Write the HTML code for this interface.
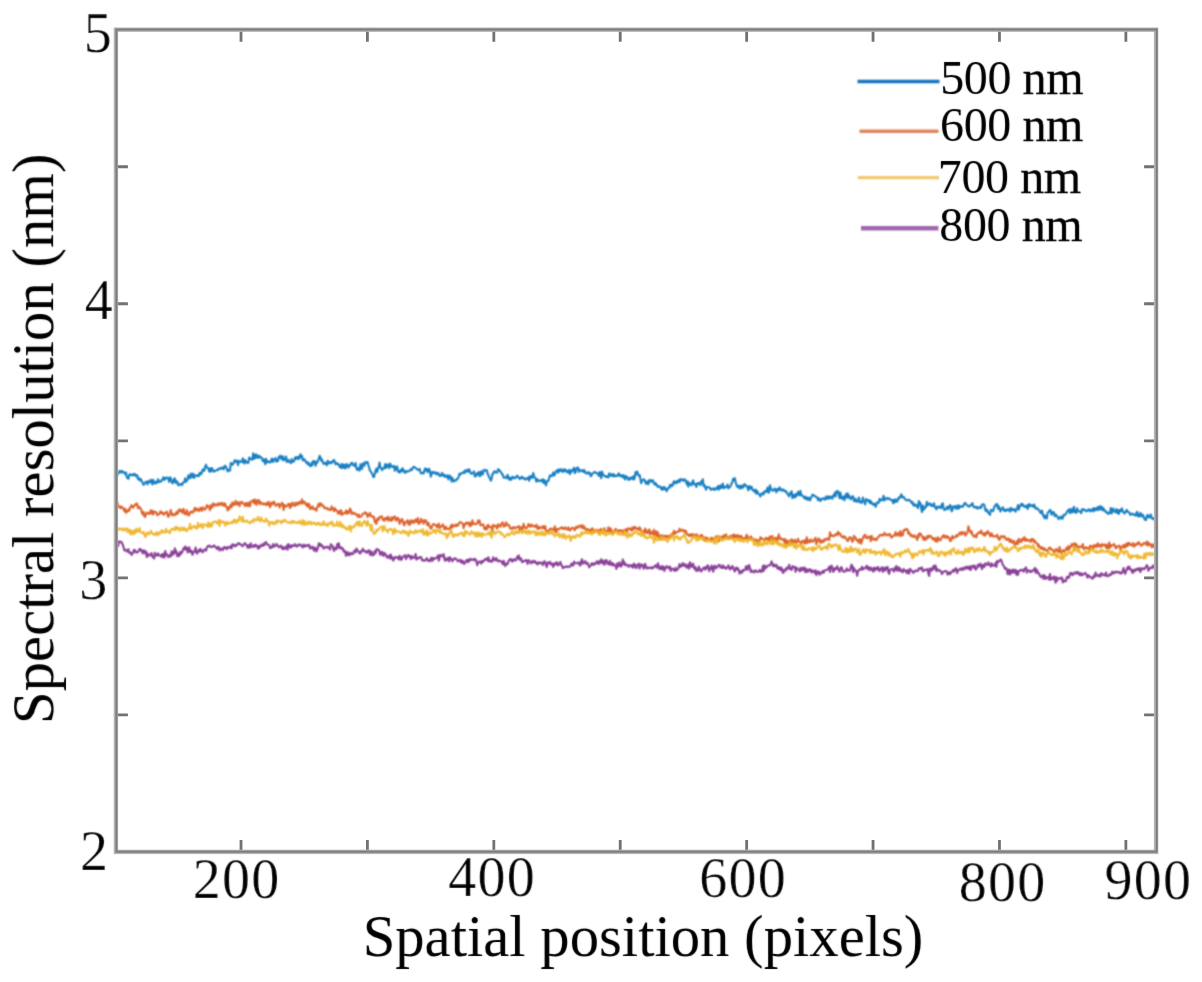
<!DOCTYPE html>
<html><head><meta charset="utf-8"><title>Spectral resolution</title>
<style>html,body{margin:0;padding:0;background:#fff;width:1202px;height:982px;overflow:hidden;font-family:"Liberation Serif",serif}</style>
</head><body>
<svg width="1202" height="982" viewBox="0 0 1202 982" style="display:block">
<defs><filter id="fd" x="-5%" y="-50%" width="110%" height="200%"><feConvolveMatrix order="3" kernelMatrix="1 2 1 2 4 2 1 2 1" edgeMode="none"/></filter><filter id="fa"><feOffset dx="0" dy="0"/></filter><filter id="fl" x="-5%" y="-50%" width="110%" height="200%"><feConvolveMatrix order="3" kernelMatrix="1 2 1 2 4 2 1 2 1" edgeMode="none"/></filter><filter id="ft" x="-5%" y="-50%" width="110%" height="200%"><feConvolveMatrix order="3" kernelMatrix="0 1 0 1 8 1 0 1 0" edgeMode="none"/></filter></defs>
<rect width="1202" height="982" fill="#fff"/>
<g filter="url(#fd)"><polyline points="116.4,474.6 117.2,475.1 118.0,473.3 118.8,472.5 119.6,470.9 120.4,471.3 121.2,472.7 122.0,471.0 122.8,472.0 123.6,471.9 124.4,473.3 125.2,474.1 126.0,472.5 126.8,477.4 127.6,478.0 128.4,478.9 129.2,475.0 130.0,474.2 130.8,474.9 131.6,474.8 132.4,475.3 133.2,474.1 134.0,475.2 134.8,473.9 135.6,475.7 136.4,476.3 137.2,475.1 138.0,479.0 138.8,478.2 139.6,480.4 140.4,478.8 141.2,479.9 142.0,481.7 142.8,483.2 143.6,484.9 144.4,484.0 145.2,482.7 146.0,481.6 146.8,482.0 147.6,484.3 148.4,481.0 149.2,482.2 150.0,482.3 150.8,479.7 151.6,482.3 152.4,484.5 153.2,479.9 154.0,482.7 154.8,483.4 155.6,481.9 156.4,483.3 157.2,482.0 158.0,479.3 158.8,482.2 159.6,481.4 160.4,481.3 161.2,481.5 162.0,479.6 162.8,479.3 163.6,477.2 164.4,480.0 165.2,478.2 166.0,478.4 166.8,477.3 167.6,478.0 168.4,478.9 169.2,481.9 170.0,477.2 170.8,478.3 171.6,481.1 172.4,483.3 173.2,482.3 174.0,478.9 174.8,478.3 175.6,482.9 176.4,481.6 177.2,481.3 178.0,484.8 178.8,485.3 179.6,484.2 180.4,484.1 181.2,483.9 182.0,485.1 182.8,483.1 183.6,482.4 184.4,481.9 185.2,478.2 186.0,481.8 186.8,480.8 187.6,479.5 188.4,475.2 189.2,476.6 190.0,478.2 190.8,473.6 191.6,475.5 192.4,477.2 193.2,473.6 194.0,477.9 194.8,476.2 195.6,475.0 196.4,475.7 197.2,476.0 198.0,475.1 198.8,476.2 199.6,472.9 200.4,472.7 201.2,474.2 202.0,471.8 202.8,469.3 203.6,470.9 204.4,470.6 205.2,466.6 206.0,464.8 206.8,467.3 207.6,467.9 208.4,468.4 209.2,471.6 210.0,468.4 210.8,471.8 211.6,468.0 212.4,468.8 213.2,470.9 214.0,471.6 214.8,471.2 215.6,470.5 216.4,470.2 217.2,469.8 218.0,470.1 218.8,468.5 219.6,468.8 220.4,468.9 221.2,467.6 222.0,468.3 222.8,467.6 223.6,469.4 224.4,466.5 225.2,465.7 226.0,467.0 226.8,468.8 227.6,471.4 228.4,469.9 229.2,469.8 230.0,470.7 230.8,462.9 231.6,463.9 232.4,464.8 233.2,463.8 234.0,462.3 234.8,460.2 235.6,461.9 236.4,461.5 237.2,460.5 238.0,465.1 238.8,462.1 239.6,460.9 240.4,461.8 241.2,461.7 242.0,462.1 242.8,458.3 243.6,461.6 244.4,463.5 245.2,460.0 246.0,461.4 246.8,462.7 247.6,462.3 248.4,462.8 249.2,457.5 250.0,459.0 250.8,458.5 251.6,459.4 252.4,459.6 253.2,453.4 254.0,458.9 254.8,454.9 255.6,457.9 256.4,454.4 257.2,456.7 258.0,458.0 258.8,455.8 259.6,456.1 260.4,457.7 261.2,457.5 262.0,457.9 262.8,461.2 263.6,461.0 264.4,459.4 265.2,464.3 266.0,458.9 266.8,462.4 267.6,461.0 268.4,461.8 269.2,462.5 270.0,461.7 270.8,462.2 271.6,458.9 272.4,458.8 273.2,461.9 274.0,459.4 274.8,459.2 275.6,458.0 276.4,461.7 277.2,460.4 278.0,461.0 278.8,456.8 279.6,457.8 280.4,455.5 281.2,457.9 282.0,459.4 282.8,456.2 283.6,460.3 284.4,459.9 285.2,458.7 286.0,456.5 286.8,462.0 287.6,460.2 288.4,459.9 289.2,461.9 290.0,462.1 290.8,463.2 291.6,459.0 292.4,461.7 293.2,461.8 294.0,461.2 294.8,458.3 295.6,457.0 296.4,459.1 297.2,457.3 298.0,456.8 298.8,459.1 299.6,456.9 300.4,454.3 301.2,457.6 302.0,455.9 302.8,460.4 303.6,460.1 304.4,459.2 305.2,460.6 306.0,462.4 306.8,461.8 307.6,464.2 308.4,462.7 309.2,464.9 310.0,466.0 310.8,466.2 311.6,462.8 312.4,465.2 313.2,461.1 314.0,462.3 314.8,461.1 315.6,465.7 316.4,462.3 317.2,462.7 318.0,460.4 318.8,458.7 319.6,455.8 320.4,457.0 321.2,460.8 322.0,459.6 322.8,461.8 323.6,464.0 324.4,463.6 325.2,462.9 326.0,463.4 326.8,465.3 327.6,460.7 328.4,461.8 329.2,463.6 330.0,462.8 330.8,461.8 331.6,463.1 332.4,462.3 333.2,460.4 334.0,460.0 334.8,461.5 335.6,464.5 336.4,463.1 337.2,463.4 338.0,464.4 338.8,464.0 339.6,466.9 340.4,465.7 341.2,468.0 342.0,463.9 342.8,467.9 343.6,466.5 344.4,464.5 345.2,468.5 346.0,467.0 346.8,464.1 347.6,466.1 348.4,467.6 349.2,465.1 350.0,465.6 350.8,464.1 351.6,462.7 352.4,463.0 353.2,465.5 354.0,465.3 354.8,465.9 355.6,463.0 356.4,468.4 357.2,469.9 358.0,468.4 358.8,467.9 359.6,470.7 360.4,464.3 361.2,466.9 362.0,469.0 362.8,463.2 363.6,464.8 364.4,465.8 365.2,462.0 366.0,462.2 366.8,462.8 367.6,462.1 368.4,465.3 369.2,467.8 370.0,470.6 370.8,471.4 371.6,473.1 372.4,473.9 373.2,476.9 374.0,476.9 374.8,473.9 375.6,470.6 376.4,468.7 377.2,472.1 378.0,468.0 378.8,467.0 379.6,462.6 380.4,467.8 381.2,468.0 382.0,470.2 382.8,468.7 383.6,467.9 384.4,468.3 385.2,464.0 386.0,468.0 386.8,466.4 387.6,464.3 388.4,467.0 389.2,468.1 390.0,463.6 390.8,465.0 391.6,466.8 392.4,466.9 393.2,466.4 394.0,465.8 394.8,470.8 395.6,469.5 396.4,466.5 397.2,466.6 398.0,471.6 398.8,470.9 399.6,472.6 400.4,471.4 401.2,469.3 402.0,471.4 402.8,468.2 403.6,470.7 404.4,472.1 405.2,473.0 406.0,470.8 406.8,471.3 407.6,471.7 408.4,471.2 409.2,471.2 410.0,470.2 410.8,469.0 411.6,470.2 412.4,468.7 413.2,467.0 414.0,466.9 414.8,467.5 415.6,467.8 416.4,468.8 417.2,469.1 418.0,470.0 418.8,470.0 419.6,468.9 420.4,472.0 421.2,473.5 422.0,473.1 422.8,472.8 423.6,473.5 424.4,470.6 425.2,468.4 426.0,470.5 426.8,468.9 427.6,472.2 428.4,470.3 429.2,468.8 430.0,471.9 430.8,476.7 431.6,474.2 432.4,471.9 433.2,472.0 434.0,473.2 434.8,472.4 435.6,472.2 436.4,474.5 437.2,473.6 438.0,472.9 438.8,474.1 439.6,476.0 440.4,475.3 441.2,475.7 442.0,472.9 442.8,474.6 443.6,476.1 444.4,474.7 445.2,476.8 446.0,476.2 446.8,476.8 447.6,475.2 448.4,479.4 449.2,477.6 450.0,475.7 450.8,477.0 451.6,481.5 452.4,477.9 453.2,480.5 454.0,481.5 454.8,480.8 455.6,479.8 456.4,480.2 457.2,478.9 458.0,478.4 458.8,476.3 459.6,473.6 460.4,474.4 461.2,473.7 462.0,473.0 462.8,472.6 463.6,471.9 464.4,473.1 465.2,470.3 466.0,470.8 466.8,471.7 467.6,469.7 468.4,471.5 469.2,469.3 470.0,471.5 470.8,473.6 471.6,473.8 472.4,473.0 473.2,473.0 474.0,471.4 474.8,476.5 475.6,474.7 476.4,475.8 477.2,473.0 478.0,474.2 478.8,472.0 479.6,476.1 480.4,476.0 481.2,471.3 482.0,473.7 482.8,474.3 483.6,470.3 484.4,469.9 485.2,470.6 486.0,470.8 486.8,470.2 487.6,473.7 488.4,475.3 489.2,477.2 490.0,478.6 490.8,480.7 491.6,478.9 492.4,473.9 493.2,473.8 494.0,471.7 494.8,471.3 495.6,472.5 496.4,472.3 497.2,472.6 498.0,469.2 498.8,469.4 499.6,470.8 500.4,471.4 501.2,472.6 502.0,474.3 502.8,474.6 503.6,477.8 504.4,477.7 505.2,477.4 506.0,476.9 506.8,478.1 507.6,474.7 508.4,477.7 509.2,479.6 510.0,477.7 510.8,479.8 511.6,479.3 512.4,476.7 513.2,477.9 514.0,477.4 514.8,478.2 515.6,478.0 516.4,476.7 517.2,475.6 518.0,476.9 518.8,477.4 519.6,478.9 520.4,478.6 521.2,477.4 522.0,476.7 522.8,478.5 523.6,478.3 524.4,478.0 525.2,479.6 526.0,478.5 526.8,478.9 527.6,479.1 528.4,477.2 529.2,480.8 530.0,476.3 530.8,477.9 531.6,476.0 532.4,477.8 533.2,473.0 534.0,475.8 534.8,477.7 535.6,478.7 536.4,481.7 537.2,479.1 538.0,480.9 538.8,480.5 539.6,481.1 540.4,480.7 541.2,480.0 542.0,481.4 542.8,479.3 543.6,483.0 544.4,480.0 545.2,482.3 546.0,485.4 546.8,481.7 547.6,480.7 548.4,481.0 549.2,477.9 550.0,475.3 550.8,476.2 551.6,476.0 552.4,475.5 553.2,472.6 554.0,475.6 554.8,474.8 555.6,471.6 556.4,471.3 557.2,470.1 558.0,472.7 558.8,469.4 559.6,471.4 560.4,469.6 561.2,469.2 562.0,471.2 562.8,472.0 563.6,470.0 564.4,469.1 565.2,471.4 566.0,470.2 566.8,470.8 567.6,472.7 568.4,472.2 569.2,469.8 570.0,474.1 570.8,470.7 571.6,472.0 572.4,469.7 573.2,470.5 574.0,467.8 574.8,473.1 575.6,472.3 576.4,468.4 577.2,467.8 578.0,467.5 578.8,471.9 579.6,469.8 580.4,470.7 581.2,470.6 582.0,471.2 582.8,470.0 583.6,472.0 584.4,470.1 585.2,472.4 586.0,473.2 586.8,473.6 587.6,472.8 588.4,472.0 589.2,473.8 590.0,473.0 590.8,476.3 591.6,475.2 592.4,473.7 593.2,473.0 594.0,472.4 594.8,471.9 595.6,472.6 596.4,473.3 597.2,473.5 598.0,473.3 598.8,475.9 599.6,472.1 600.4,473.6 601.2,478.2 602.0,471.6 602.8,474.0 603.6,475.4 604.4,475.8 605.2,476.6 606.0,476.0 606.8,477.1 607.6,476.5 608.4,477.4 609.2,473.3 610.0,474.7 610.8,475.9 611.6,474.2 612.4,474.1 613.2,476.4 614.0,474.4 614.8,476.2 615.6,476.2 616.4,475.4 617.2,475.9 618.0,475.1 618.8,473.3 619.6,475.5 620.4,476.4 621.2,475.1 622.0,475.9 622.8,477.3 623.6,475.1 624.4,477.5 625.2,479.5 626.0,476.1 626.8,477.4 627.6,477.2 628.4,480.0 629.2,478.4 630.0,479.5 630.8,477.4 631.6,478.6 632.4,478.9 633.2,476.2 634.0,479.6 634.8,477.4 635.6,472.0 636.4,474.3 637.2,471.5 638.0,474.1 638.8,475.9 639.6,475.0 640.4,478.8 641.2,483.3 642.0,480.7 642.8,479.9 643.6,479.4 644.4,479.5 645.2,481.8 646.0,483.8 646.8,481.8 647.6,481.5 648.4,484.4 649.2,480.2 650.0,479.9 650.8,481.6 651.6,481.8 652.4,480.2 653.2,480.8 654.0,483.8 654.8,484.5 655.6,483.0 656.4,485.5 657.2,485.2 658.0,487.0 658.8,486.4 659.6,486.7 660.4,486.6 661.2,488.9 662.0,489.7 662.8,487.3 663.6,489.3 664.4,487.1 665.2,488.6 666.0,489.9 666.8,491.2 667.6,488.2 668.4,488.1 669.2,488.0 670.0,484.8 670.8,486.5 671.6,484.9 672.4,485.9 673.2,483.1 674.0,481.2 674.8,483.5 675.6,483.2 676.4,481.3 677.2,482.8 678.0,480.4 678.8,480.2 679.6,482.1 680.4,478.9 681.2,479.6 682.0,480.0 682.8,480.7 683.6,479.2 684.4,480.5 685.2,479.6 686.0,481.7 686.8,484.3 687.6,481.4 688.4,486.6 689.2,482.7 690.0,484.1 690.8,484.2 691.6,485.3 692.4,481.8 693.2,480.4 694.0,484.3 694.8,484.5 695.6,484.1 696.4,487.0 697.2,483.2 698.0,483.1 698.8,484.0 699.6,483.0 700.4,485.2 701.2,481.4 702.0,483.2 702.8,479.2 703.6,486.1 704.4,484.8 705.2,487.3 706.0,489.7 706.8,487.0 707.6,487.1 708.4,487.3 709.2,487.3 710.0,488.1 710.8,489.9 711.6,488.9 712.4,488.9 713.2,488.4 714.0,490.0 714.8,489.2 715.6,488.2 716.4,489.3 717.2,487.8 718.0,486.0 718.8,489.6 719.6,487.8 720.4,485.4 721.2,488.1 722.0,486.7 722.8,483.6 723.6,488.3 724.4,486.5 725.2,487.6 726.0,486.7 726.8,486.4 727.6,484.5 728.4,488.5 729.2,487.3 730.0,486.8 730.8,485.7 731.6,483.3 732.4,482.2 733.2,478.7 734.0,480.2 734.8,478.2 735.6,482.0 736.4,484.8 737.2,487.0 738.0,485.7 738.8,486.3 739.6,488.6 740.4,485.6 741.2,486.9 742.0,488.2 742.8,485.5 743.6,487.1 744.4,484.0 745.2,485.4 746.0,485.4 746.8,486.1 747.6,488.0 748.4,490.3 749.2,486.1 750.0,486.6 750.8,488.6 751.6,486.7 752.4,489.8 753.2,490.6 754.0,490.0 754.8,492.0 755.6,489.6 756.4,493.8 757.2,491.0 758.0,493.0 758.8,493.9 759.6,494.9 760.4,496.5 761.2,494.5 762.0,493.0 762.8,493.6 763.6,494.4 764.4,491.2 765.2,491.1 766.0,492.0 766.8,490.2 767.6,487.5 768.4,492.7 769.2,491.9 770.0,485.3 770.8,488.6 771.6,489.5 772.4,490.7 773.2,490.5 774.0,489.4 774.8,488.5 775.6,490.6 776.4,492.3 777.2,489.0 778.0,489.0 778.8,490.3 779.6,487.3 780.4,489.7 781.2,489.3 782.0,490.8 782.8,489.5 783.6,489.6 784.4,490.8 785.2,491.7 786.0,491.2 786.8,492.6 787.6,494.1 788.4,495.1 789.2,496.3 790.0,493.0 790.8,493.9 791.6,491.2 792.4,498.2 793.2,494.7 794.0,496.1 794.8,497.4 795.6,494.0 796.4,496.2 797.2,494.9 798.0,491.7 798.8,494.3 799.6,495.2 800.4,490.9 801.2,495.4 802.0,495.1 802.8,496.1 803.6,496.6 804.4,498.4 805.2,496.7 806.0,498.9 806.8,497.5 807.6,499.8 808.4,497.7 809.2,498.2 810.0,500.5 810.8,498.1 811.6,496.7 812.4,494.7 813.2,494.7 814.0,495.7 814.8,496.3 815.6,496.4 816.4,497.3 817.2,497.3 818.0,500.2 818.8,498.3 819.6,498.9 820.4,501.1 821.2,499.6 822.0,498.9 822.8,498.3 823.6,498.6 824.4,499.7 825.2,499.1 826.0,496.5 826.8,498.8 827.6,498.2 828.4,496.2 829.2,498.7 830.0,496.9 830.8,496.6 831.6,498.1 832.4,498.7 833.2,495.4 834.0,495.9 834.8,492.8 835.6,496.5 836.4,491.2 837.2,492.6 838.0,491.1 838.8,494.8 839.6,498.3 840.4,492.6 841.2,497.2 842.0,498.8 842.8,497.6 843.6,496.4 844.4,500.3 845.2,496.9 846.0,494.0 846.8,497.5 847.6,493.3 848.4,497.7 849.2,495.6 850.0,497.2 850.8,499.3 851.6,498.1 852.4,496.4 853.2,496.4 854.0,501.2 854.8,501.0 855.6,498.9 856.4,501.6 857.2,501.3 858.0,501.7 858.8,497.5 859.6,500.7 860.4,502.7 861.2,502.6 862.0,502.7 862.8,497.5 863.6,501.3 864.4,501.5 865.2,504.4 866.0,499.0 866.8,499.7 867.6,500.1 868.4,501.5 869.2,500.2 870.0,503.3 870.8,501.1 871.6,503.5 872.4,503.0 873.2,504.8 874.0,504.3 874.8,503.7 875.6,506.8 876.4,504.6 877.2,502.3 878.0,502.5 878.8,502.7 879.6,498.7 880.4,499.6 881.2,500.4 882.0,500.2 882.8,498.7 883.6,495.8 884.4,500.6 885.2,499.1 886.0,498.4 886.8,497.9 887.6,499.2 888.4,498.7 889.2,498.3 890.0,499.2 890.8,499.9 891.6,500.4 892.4,500.1 893.2,503.3 894.0,499.9 894.8,502.3 895.6,499.3 896.4,500.8 897.2,501.7 898.0,499.4 898.8,497.4 899.6,498.1 900.4,497.6 901.2,494.3 902.0,495.9 902.8,497.4 903.6,496.9 904.4,498.1 905.2,499.5 906.0,499.9 906.8,500.5 907.6,500.4 908.4,499.5 909.2,500.3 910.0,500.4 910.8,501.6 911.6,503.0 912.4,501.8 913.2,505.1 914.0,505.6 914.8,504.1 915.6,505.4 916.4,506.1 917.2,505.0 918.0,508.2 918.8,501.1 919.6,504.6 920.4,502.9 921.2,508.3 922.0,512.0 922.8,505.5 923.6,509.6 924.4,509.1 925.2,506.8 926.0,507.0 926.8,501.8 927.6,505.4 928.4,503.9 929.2,503.8 930.0,503.4 930.8,505.7 931.6,504.5 932.4,506.1 933.2,505.4 934.0,503.3 934.8,507.1 935.6,507.9 936.4,509.3 937.2,506.5 938.0,507.2 938.8,507.6 939.6,506.4 940.4,507.5 941.2,508.1 942.0,504.0 942.8,503.3 943.6,508.2 944.4,510.0 945.2,509.6 946.0,509.3 946.8,507.1 947.6,506.9 948.4,509.2 949.2,506.4 950.0,505.0 950.8,506.1 951.6,511.3 952.4,510.4 953.2,506.4 954.0,506.2 954.8,507.6 955.6,506.0 956.4,509.0 957.2,506.9 958.0,505.3 958.8,508.8 959.6,505.9 960.4,507.0 961.2,506.6 962.0,506.0 962.8,506.9 963.6,505.3 964.4,503.5 965.2,502.9 966.0,504.2 966.8,504.9 967.6,505.9 968.4,506.0 969.2,506.6 970.0,505.9 970.8,504.7 971.6,505.0 972.4,503.1 973.2,506.1 974.0,507.3 974.8,507.5 975.6,506.7 976.4,506.8 977.2,508.6 978.0,507.4 978.8,508.2 979.6,507.5 980.4,506.6 981.2,507.8 982.0,504.6 982.8,504.5 983.6,504.2 984.4,505.3 985.2,509.8 986.0,511.1 986.8,509.5 987.6,511.3 988.4,513.2 989.2,513.7 990.0,514.8 990.8,510.1 991.6,510.0 992.4,510.6 993.2,511.1 994.0,508.1 994.8,505.7 995.6,505.4 996.4,504.0 997.2,504.3 998.0,508.7 998.8,506.3 999.6,508.1 1000.4,511.6 1001.2,510.1 1002.0,508.8 1002.8,507.3 1003.6,509.0 1004.4,511.0 1005.2,509.8 1006.0,511.0 1006.8,509.4 1007.6,510.2 1008.4,509.2 1009.2,510.2 1010.0,511.6 1010.8,507.7 1011.6,509.8 1012.4,510.4 1013.2,509.1 1014.0,509.1 1014.8,510.3 1015.6,511.6 1016.4,509.1 1017.2,508.2 1018.0,505.0 1018.8,509.7 1019.6,506.5 1020.4,505.9 1021.2,503.8 1022.0,505.5 1022.8,504.1 1023.6,506.0 1024.4,506.8 1025.2,506.3 1026.0,506.9 1026.8,505.3 1027.6,508.9 1028.4,505.8 1029.2,504.0 1030.0,506.4 1030.8,505.4 1031.6,505.0 1032.4,505.9 1033.2,506.9 1034.0,504.6 1034.8,506.1 1035.6,508.8 1036.4,508.5 1037.2,508.1 1038.0,509.4 1038.8,509.9 1039.6,510.9 1040.4,513.0 1041.2,512.8 1042.0,510.5 1042.8,515.2 1043.6,515.0 1044.4,518.3 1045.2,515.8 1046.0,516.2 1046.8,518.6 1047.6,513.1 1048.4,512.3 1049.2,511.2 1050.0,509.9 1050.8,511.0 1051.6,514.7 1052.4,513.5 1053.2,511.9 1054.0,512.8 1054.8,516.3 1055.6,514.5 1056.4,515.3 1057.2,516.4 1058.0,518.1 1058.8,519.1 1059.6,517.8 1060.4,516.6 1061.2,516.8 1062.0,519.0 1062.8,517.9 1063.6,514.8 1064.4,515.4 1065.2,514.6 1066.0,513.7 1066.8,512.4 1067.6,510.6 1068.4,511.3 1069.2,509.2 1070.0,513.1 1070.8,511.7 1071.6,508.8 1072.4,512.4 1073.2,511.3 1074.0,506.8 1074.8,512.1 1075.6,510.7 1076.4,512.9 1077.2,508.2 1078.0,511.2 1078.8,511.3 1079.6,511.3 1080.4,511.5 1081.2,513.2 1082.0,509.3 1082.8,509.6 1083.6,509.2 1084.4,510.3 1085.2,510.0 1086.0,511.3 1086.8,511.0 1087.6,510.5 1088.4,509.3 1089.2,509.5 1090.0,511.4 1090.8,510.9 1091.6,509.7 1092.4,508.9 1093.2,511.5 1094.0,508.1 1094.8,509.7 1095.6,510.3 1096.4,508.0 1097.2,509.7 1098.0,506.8 1098.8,510.0 1099.6,508.7 1100.4,506.1 1101.2,509.4 1102.0,507.1 1102.8,510.5 1103.6,508.4 1104.4,509.9 1105.2,511.4 1106.0,511.3 1106.8,513.0 1107.6,512.5 1108.4,514.0 1109.2,512.7 1110.0,512.7 1110.8,508.0 1111.6,513.5 1112.4,511.5 1113.2,508.5 1114.0,511.0 1114.8,511.5 1115.6,512.3 1116.4,509.0 1117.2,512.9 1118.0,510.2 1118.8,514.0 1119.6,510.1 1120.4,511.3 1121.2,509.6 1122.0,508.4 1122.8,512.0 1123.6,512.1 1124.4,513.5 1125.2,512.8 1126.0,511.1 1126.8,509.9 1127.6,511.8 1128.4,512.1 1129.2,512.3 1130.0,514.8 1130.8,514.6 1131.6,513.7 1132.4,514.4 1133.2,513.9 1134.0,514.5 1134.8,515.3 1135.6,515.6 1136.4,513.1 1137.2,511.9 1138.0,516.3 1138.8,514.5 1139.6,516.5 1140.4,512.9 1141.2,515.3 1142.0,516.4 1142.8,514.7 1143.6,516.6 1144.4,518.9 1145.2,519.7 1146.0,520.1 1146.8,516.0 1147.6,514.8 1148.4,517.3 1149.2,517.5 1150.0,516.1 1150.8,514.5 1151.6,518.2 1152.4,518.7 1153.2,519.0 1154.0,518.0 1154.8,519.7 1155.6,521.0" fill="none" stroke="#0072BD" stroke-width="2.1" stroke-opacity="0.9" stroke-linejoin="round"/><polyline points="116.4,504.1 117.2,502.5 118.0,506.2 118.8,506.8 119.6,506.5 120.4,508.2 121.2,506.4 122.0,507.5 122.8,507.6 123.6,509.3 124.4,511.2 125.2,508.8 126.0,512.7 126.8,512.1 127.6,510.5 128.4,509.6 129.2,510.9 130.0,507.5 130.8,507.1 131.6,505.1 132.4,506.9 133.2,507.7 134.0,506.0 134.8,505.3 135.6,503.9 136.4,505.0 137.2,503.6 138.0,508.3 138.8,507.1 139.6,507.0 140.4,508.5 141.2,509.5 142.0,513.1 142.8,514.4 143.6,511.9 144.4,516.4 145.2,516.9 146.0,514.3 146.8,512.5 147.6,513.3 148.4,513.0 149.2,514.1 150.0,512.7 150.8,510.2 151.6,513.6 152.4,510.9 153.2,514.6 154.0,511.4 154.8,512.2 155.6,511.9 156.4,512.4 157.2,515.2 158.0,514.5 158.8,514.2 159.6,513.9 160.4,511.2 161.2,512.9 162.0,513.0 162.8,512.5 163.6,514.9 164.4,513.1 165.2,513.3 166.0,512.9 166.8,511.5 167.6,515.7 168.4,516.8 169.2,514.9 170.0,512.9 170.8,510.1 171.6,514.2 172.4,515.5 173.2,513.9 174.0,514.6 174.8,515.2 175.6,514.5 176.4,511.9 177.2,513.9 178.0,513.2 178.8,509.6 179.6,511.0 180.4,509.5 181.2,511.5 182.0,512.6 182.8,510.2 183.6,508.8 184.4,513.9 185.2,512.6 186.0,514.3 186.8,510.1 187.6,513.8 188.4,515.4 189.2,515.3 190.0,512.0 190.8,512.3 191.6,511.3 192.4,512.6 193.2,512.3 194.0,510.4 194.8,507.9 195.6,510.6 196.4,508.4 197.2,509.9 198.0,509.2 198.8,511.1 199.6,510.2 200.4,507.7 201.2,508.8 202.0,510.8 202.8,507.2 203.6,508.5 204.4,509.5 205.2,509.5 206.0,508.2 206.8,505.3 207.6,505.2 208.4,507.3 209.2,507.3 210.0,510.3 210.8,505.0 211.6,507.8 212.4,507.1 213.2,503.2 214.0,504.3 214.8,505.6 215.6,504.4 216.4,504.7 217.2,505.5 218.0,503.4 218.8,505.1 219.6,503.3 220.4,503.3 221.2,504.8 222.0,502.9 222.8,504.1 223.6,505.9 224.4,503.4 225.2,503.8 226.0,506.7 226.8,506.7 227.6,510.4 228.4,507.6 229.2,509.2 230.0,506.3 230.8,504.7 231.6,507.3 232.4,502.2 233.2,505.0 234.0,503.4 234.8,504.6 235.6,500.9 236.4,504.2 237.2,504.6 238.0,502.2 238.8,502.2 239.6,506.1 240.4,502.8 241.2,502.0 242.0,501.9 242.8,503.7 243.6,503.7 244.4,503.6 245.2,506.1 246.0,503.1 246.8,504.5 247.6,506.1 248.4,502.5 249.2,505.3 250.0,506.3 250.8,501.4 251.6,501.5 252.4,501.4 253.2,500.0 254.0,503.3 254.8,499.6 255.6,503.2 256.4,504.8 257.2,500.3 258.0,502.3 258.8,500.0 259.6,504.2 260.4,502.0 261.2,502.8 262.0,503.5 262.8,504.5 263.6,503.4 264.4,504.2 265.2,503.7 266.0,504.9 266.8,503.1 267.6,504.8 268.4,501.7 269.2,503.8 270.0,507.3 270.8,504.5 271.6,502.4 272.4,504.5 273.2,502.6 274.0,501.8 274.8,503.3 275.6,505.7 276.4,505.4 277.2,504.8 278.0,503.7 278.8,503.7 279.6,507.5 280.4,506.0 281.2,504.4 282.0,502.8 282.8,504.1 283.6,510.0 284.4,504.8 285.2,506.3 286.0,506.6 286.8,505.9 287.6,505.6 288.4,503.8 289.2,504.1 290.0,508.0 290.8,504.2 291.6,506.4 292.4,502.5 293.2,504.4 294.0,505.0 294.8,506.0 295.6,502.6 296.4,505.0 297.2,504.5 298.0,502.6 298.8,504.2 299.6,501.9 300.4,502.1 301.2,503.4 302.0,499.4 302.8,503.4 303.6,502.2 304.4,501.6 305.2,503.2 306.0,505.1 306.8,503.6 307.6,506.7 308.4,503.8 309.2,504.2 310.0,509.0 310.8,507.6 311.6,508.7 312.4,506.3 313.2,509.0 314.0,508.5 314.8,509.4 315.6,508.7 316.4,510.8 317.2,507.2 318.0,505.6 318.8,503.6 319.6,506.4 320.4,503.4 321.2,503.7 322.0,504.7 322.8,506.2 323.6,505.8 324.4,508.1 325.2,508.1 326.0,508.3 326.8,507.8 327.6,509.4 328.4,508.7 329.2,509.6 330.0,509.9 330.8,510.1 331.6,506.4 332.4,509.0 333.2,508.7 334.0,511.3 334.8,508.1 335.6,509.7 336.4,510.7 337.2,510.9 338.0,513.3 338.8,511.4 339.6,513.9 340.4,510.5 341.2,510.3 342.0,515.0 342.8,513.6 343.6,513.5 344.4,512.8 345.2,513.2 346.0,510.5 346.8,513.6 347.6,511.2 348.4,513.3 349.2,511.8 350.0,508.6 350.8,510.1 351.6,514.1 352.4,512.6 353.2,512.6 354.0,514.0 354.8,513.4 355.6,513.6 356.4,514.9 357.2,515.0 358.0,516.9 358.8,514.5 359.6,517.1 360.4,516.8 361.2,516.5 362.0,515.4 362.8,513.8 363.6,513.7 364.4,513.1 365.2,512.3 366.0,513.7 366.8,513.2 367.6,517.0 368.4,515.8 369.2,514.7 370.0,512.9 370.8,516.1 371.6,516.0 372.4,516.2 373.2,517.3 374.0,516.8 374.8,522.3 375.6,520.7 376.4,523.9 377.2,519.2 378.0,518.2 378.8,519.8 379.6,517.0 380.4,517.0 381.2,516.5 382.0,516.4 382.8,519.9 383.6,519.4 384.4,520.8 385.2,518.0 386.0,518.9 386.8,517.7 387.6,520.4 388.4,516.8 389.2,519.7 390.0,520.4 390.8,520.8 391.6,517.2 392.4,520.2 393.2,517.4 394.0,517.3 394.8,516.4 395.6,520.0 396.4,520.7 397.2,517.7 398.0,518.0 398.8,519.1 399.6,523.9 400.4,522.1 401.2,520.3 402.0,518.9 402.8,521.1 403.6,524.2 404.4,525.3 405.2,522.2 406.0,521.7 406.8,522.1 407.6,520.1 408.4,524.4 409.2,521.5 410.0,524.7 410.8,520.3 411.6,520.6 412.4,522.7 413.2,520.8 414.0,522.8 414.8,521.3 415.6,519.3 416.4,521.7 417.2,522.1 418.0,518.1 418.8,523.9 419.6,522.1 420.4,522.6 421.2,518.9 422.0,520.7 422.8,521.4 423.6,523.7 424.4,520.1 425.2,521.4 426.0,520.3 426.8,523.7 427.6,525.2 428.4,522.8 429.2,525.1 430.0,527.2 430.8,528.7 431.6,527.2 432.4,525.5 433.2,524.1 434.0,524.3 434.8,524.5 435.6,525.6 436.4,525.1 437.2,527.5 438.0,525.3 438.8,523.6 439.6,527.9 440.4,527.4 441.2,526.6 442.0,525.7 442.8,524.4 443.6,526.1 444.4,529.4 445.2,527.2 446.0,526.8 446.8,529.1 447.6,528.8 448.4,528.9 449.2,528.6 450.0,529.3 450.8,525.6 451.6,527.9 452.4,524.5 453.2,526.7 454.0,525.6 454.8,525.4 455.6,526.2 456.4,524.4 457.2,525.8 458.0,525.2 458.8,523.7 459.6,522.4 460.4,522.1 461.2,522.6 462.0,523.1 462.8,523.5 463.6,528.1 464.4,524.6 465.2,524.9 466.0,522.5 466.8,522.8 467.6,523.5 468.4,524.3 469.2,522.4 470.0,526.3 470.8,523.0 471.6,525.3 472.4,520.2 473.2,523.6 474.0,523.9 474.8,523.8 475.6,524.3 476.4,523.8 477.2,523.5 478.0,520.4 478.8,522.5 479.6,520.5 480.4,525.3 481.2,525.2 482.0,524.9 482.8,524.3 483.6,525.1 484.4,529.1 485.2,529.4 486.0,527.1 486.8,529.4 487.6,525.3 488.4,524.9 489.2,527.3 490.0,526.9 490.8,526.7 491.6,527.1 492.4,530.7 493.2,524.7 494.0,525.8 494.8,526.2 495.6,525.8 496.4,527.3 497.2,528.6 498.0,524.2 498.8,526.3 499.6,525.7 500.4,526.6 501.2,523.7 502.0,523.3 502.8,522.4 503.6,526.6 504.4,526.1 505.2,525.9 506.0,522.2 506.8,525.2 507.6,525.0 508.4,524.5 509.2,525.6 510.0,528.4 510.8,528.6 511.6,528.1 512.4,528.8 513.2,527.0 514.0,527.9 514.8,527.7 515.6,528.4 516.4,527.3 517.2,527.0 518.0,526.9 518.8,526.0 519.6,530.2 520.4,527.5 521.2,527.2 522.0,529.9 522.8,528.4 523.6,523.9 524.4,527.1 525.2,527.2 526.0,528.6 526.8,527.7 527.6,526.9 528.4,524.1 529.2,524.6 530.0,526.4 530.8,526.8 531.6,524.6 532.4,525.6 533.2,525.6 534.0,526.4 534.8,526.9 535.6,526.0 536.4,524.7 537.2,528.4 538.0,529.1 538.8,526.6 539.6,528.4 540.4,527.6 541.2,528.0 542.0,527.8 542.8,526.0 543.6,528.1 544.4,528.8 545.2,526.1 546.0,530.7 546.8,531.2 547.6,531.1 548.4,531.6 549.2,530.1 550.0,528.8 550.8,528.7 551.6,528.6 552.4,529.9 553.2,529.5 554.0,530.4 554.8,526.2 555.6,532.5 556.4,532.3 557.2,528.7 558.0,529.6 558.8,529.1 559.6,528.7 560.4,527.9 561.2,528.1 562.0,527.1 562.8,528.7 563.6,528.5 564.4,529.0 565.2,527.3 566.0,528.8 566.8,528.8 567.6,529.7 568.4,527.3 569.2,529.6 570.0,530.5 570.8,529.7 571.6,528.1 572.4,527.7 573.2,527.9 574.0,529.2 574.8,530.3 575.6,527.6 576.4,526.7 577.2,528.0 578.0,527.6 578.8,525.7 579.6,525.8 580.4,526.6 581.2,527.6 582.0,525.0 582.8,525.8 583.6,528.6 584.4,526.5 585.2,529.0 586.0,529.9 586.8,529.7 587.6,528.8 588.4,530.6 589.2,530.2 590.0,531.2 590.8,529.4 591.6,532.3 592.4,528.2 593.2,530.4 594.0,530.7 594.8,532.1 595.6,529.8 596.4,531.5 597.2,529.8 598.0,531.7 598.8,533.1 599.6,529.8 600.4,531.0 601.2,528.9 602.0,531.7 602.8,532.0 603.6,530.1 604.4,528.3 605.2,530.6 606.0,531.6 606.8,531.5 607.6,531.2 608.4,527.3 609.2,529.1 610.0,532.3 610.8,528.4 611.6,532.0 612.4,533.2 613.2,531.6 614.0,532.2 614.8,530.0 615.6,528.8 616.4,530.5 617.2,530.3 618.0,530.5 618.8,531.6 619.6,530.2 620.4,530.7 621.2,531.0 622.0,530.3 622.8,533.0 623.6,530.8 624.4,530.2 625.2,529.7 626.0,529.1 626.8,532.0 627.6,530.1 628.4,528.2 629.2,528.8 630.0,529.3 630.8,528.6 631.6,530.8 632.4,527.2 633.2,529.6 634.0,528.9 634.8,526.7 635.6,528.4 636.4,528.0 637.2,529.3 638.0,528.3 638.8,529.8 639.6,527.3 640.4,528.5 641.2,531.8 642.0,532.5 642.8,531.4 643.6,530.7 644.4,533.3 645.2,528.6 646.0,530.7 646.8,533.0 647.6,533.1 648.4,530.6 649.2,529.4 650.0,534.6 650.8,532.9 651.6,531.6 652.4,533.3 653.2,534.9 654.0,529.9 654.8,535.7 655.6,535.4 656.4,531.4 657.2,536.0 658.0,532.4 658.8,537.1 659.6,536.2 660.4,539.2 661.2,535.1 662.0,536.3 662.8,538.0 663.6,535.7 664.4,535.8 665.2,536.5 666.0,537.1 666.8,535.5 667.6,537.5 668.4,537.1 669.2,536.0 670.0,538.1 670.8,534.6 671.6,536.7 672.4,533.5 673.2,535.1 674.0,530.8 674.8,533.8 675.6,533.0 676.4,532.2 677.2,531.8 678.0,532.0 678.8,531.2 679.6,528.7 680.4,530.9 681.2,530.8 682.0,530.6 682.8,529.6 683.6,530.8 684.4,532.0 685.2,530.6 686.0,530.9 686.8,534.4 687.6,534.5 688.4,535.0 689.2,536.1 690.0,534.4 690.8,534.6 691.6,536.5 692.4,534.0 693.2,534.7 694.0,535.4 694.8,535.4 695.6,534.4 696.4,536.3 697.2,534.6 698.0,535.9 698.8,536.8 699.6,536.6 700.4,537.3 701.2,534.9 702.0,535.2 702.8,536.7 703.6,538.9 704.4,540.9 705.2,537.2 706.0,539.5 706.8,537.7 707.6,537.9 708.4,538.6 709.2,540.0 710.0,539.3 710.8,540.8 711.6,537.5 712.4,540.1 713.2,540.0 714.0,538.5 714.8,538.9 715.6,537.2 716.4,536.2 717.2,537.0 718.0,536.4 718.8,541.5 719.6,536.3 720.4,539.3 721.2,536.9 722.0,537.0 722.8,537.6 723.6,535.3 724.4,537.9 725.2,537.1 726.0,534.2 726.8,537.4 727.6,537.3 728.4,537.2 729.2,538.9 730.0,535.9 730.8,537.3 731.6,537.6 732.4,535.2 733.2,538.3 734.0,534.5 734.8,534.9 735.6,537.8 736.4,535.5 737.2,537.1 738.0,535.0 738.8,537.7 739.6,536.1 740.4,538.4 741.2,535.8 742.0,538.9 742.8,537.9 743.6,538.5 744.4,538.4 745.2,538.7 746.0,536.6 746.8,534.8 747.6,538.8 748.4,537.4 749.2,538.3 750.0,539.7 750.8,536.3 751.6,538.4 752.4,538.8 753.2,538.4 754.0,540.7 754.8,540.3 755.6,539.5 756.4,539.5 757.2,542.4 758.0,540.4 758.8,542.0 759.6,541.2 760.4,537.2 761.2,537.9 762.0,539.0 762.8,538.9 763.6,539.4 764.4,539.5 765.2,539.9 766.0,537.8 766.8,538.2 767.6,539.7 768.4,538.0 769.2,540.3 770.0,536.4 770.8,539.8 771.6,538.6 772.4,536.0 773.2,540.5 774.0,539.6 774.8,539.2 775.6,537.6 776.4,538.6 777.2,541.7 778.0,538.2 778.8,534.4 779.6,538.4 780.4,537.9 781.2,539.6 782.0,539.4 782.8,539.0 783.6,539.4 784.4,542.5 785.2,539.1 786.0,544.5 786.8,541.0 787.6,540.5 788.4,543.5 789.2,543.1 790.0,540.6 790.8,543.2 791.6,539.2 792.4,540.5 793.2,543.5 794.0,541.4 794.8,539.7 795.6,542.4 796.4,542.9 797.2,541.5 798.0,538.8 798.8,541.0 799.6,542.1 800.4,542.7 801.2,544.3 802.0,541.1 802.8,540.8 803.6,541.4 804.4,543.3 805.2,540.1 806.0,543.5 806.8,537.3 807.6,542.6 808.4,540.3 809.2,542.0 810.0,542.2 810.8,539.4 811.6,540.9 812.4,541.4 813.2,541.8 814.0,539.5 814.8,539.3 815.6,537.8 816.4,544.5 817.2,540.4 818.0,540.3 818.8,538.4 819.6,542.1 820.4,539.9 821.2,542.8 822.0,541.9 822.8,540.7 823.6,541.8 824.4,539.0 825.2,540.2 826.0,539.8 826.8,538.4 827.6,539.5 828.4,538.5 829.2,540.0 830.0,532.2 830.8,535.9 831.6,535.1 832.4,535.5 833.2,536.4 834.0,536.1 834.8,535.1 835.6,534.0 836.4,535.1 837.2,534.6 838.0,531.7 838.8,534.5 839.6,533.3 840.4,534.0 841.2,536.4 842.0,536.7 842.8,537.3 843.6,536.2 844.4,537.7 845.2,536.8 846.0,538.9 846.8,539.4 847.6,541.1 848.4,540.4 849.2,537.4 850.0,538.0 850.8,537.4 851.6,539.3 852.4,541.9 853.2,540.1 854.0,535.9 854.8,537.5 855.6,537.6 856.4,540.4 857.2,539.8 858.0,540.4 858.8,542.8 859.6,539.1 860.4,539.2 861.2,543.6 862.0,540.8 862.8,538.6 863.6,536.2 864.4,536.5 865.2,534.6 866.0,537.9 866.8,537.3 867.6,538.3 868.4,536.6 869.2,536.5 870.0,537.1 870.8,541.2 871.6,535.8 872.4,538.9 873.2,538.8 874.0,539.8 874.8,538.4 875.6,539.8 876.4,540.2 877.2,538.3 878.0,537.2 878.8,536.9 879.6,535.1 880.4,535.5 881.2,534.7 882.0,534.7 882.8,535.6 883.6,535.2 884.4,532.8 885.2,534.6 886.0,534.4 886.8,535.4 887.6,534.5 888.4,535.1 889.2,534.2 890.0,534.0 890.8,536.7 891.6,537.6 892.4,536.5 893.2,536.0 894.0,535.6 894.8,534.4 895.6,532.2 896.4,535.7 897.2,534.9 898.0,533.6 898.8,532.8 899.6,536.0 900.4,531.0 901.2,535.7 902.0,533.4 902.8,535.4 903.6,530.2 904.4,530.6 905.2,529.3 906.0,529.7 906.8,529.0 907.6,529.6 908.4,533.8 909.2,532.4 910.0,534.1 910.8,536.1 911.6,534.9 912.4,535.4 913.2,537.0 914.0,536.3 914.8,535.4 915.6,537.5 916.4,537.7 917.2,540.0 918.0,534.8 918.8,536.9 919.6,533.2 920.4,533.9 921.2,534.6 922.0,536.2 922.8,537.7 923.6,539.7 924.4,536.8 925.2,540.0 926.0,539.1 926.8,538.4 927.6,535.7 928.4,537.8 929.2,535.9 930.0,536.3 930.8,535.8 931.6,537.7 932.4,538.9 933.2,539.4 934.0,537.9 934.8,540.2 935.6,541.4 936.4,538.3 937.2,541.8 938.0,537.3 938.8,539.8 939.6,539.5 940.4,540.5 941.2,538.4 942.0,536.9 942.8,536.1 943.6,535.1 944.4,537.8 945.2,536.3 946.0,535.9 946.8,538.0 947.6,536.4 948.4,537.2 949.2,537.4 950.0,540.9 950.8,540.9 951.6,538.7 952.4,536.0 953.2,538.2 954.0,537.4 954.8,537.2 955.6,537.0 956.4,535.1 957.2,536.4 958.0,535.7 958.8,534.2 959.6,532.7 960.4,532.6 961.2,534.6 962.0,532.1 962.8,533.7 963.6,533.0 964.4,532.2 965.2,535.4 966.0,534.7 966.8,533.7 967.6,531.8 968.4,526.3 969.2,529.5 970.0,531.1 970.8,532.9 971.6,531.1 972.4,534.9 973.2,535.2 974.0,536.7 974.8,536.1 975.6,535.1 976.4,537.3 977.2,533.8 978.0,533.0 978.8,532.9 979.6,531.8 980.4,533.2 981.2,530.5 982.0,533.2 982.8,534.1 983.6,535.0 984.4,533.0 985.2,535.7 986.0,532.7 986.8,533.6 987.6,531.0 988.4,532.8 989.2,532.8 990.0,536.3 990.8,535.3 991.6,533.3 992.4,536.1 993.2,536.4 994.0,535.8 994.8,536.5 995.6,536.5 996.4,536.5 997.2,534.8 998.0,537.4 998.8,539.5 999.6,539.8 1000.4,537.1 1001.2,536.0 1002.0,536.3 1002.8,537.4 1003.6,536.8 1004.4,536.2 1005.2,538.3 1006.0,538.2 1006.8,540.0 1007.6,539.4 1008.4,538.3 1009.2,540.8 1010.0,542.0 1010.8,539.5 1011.6,541.1 1012.4,542.8 1013.2,541.2 1014.0,540.9 1014.8,545.1 1015.6,543.5 1016.4,544.0 1017.2,540.7 1018.0,544.1 1018.8,538.9 1019.6,540.2 1020.4,541.7 1021.2,542.1 1022.0,538.7 1022.8,538.9 1023.6,540.1 1024.4,537.0 1025.2,540.7 1026.0,540.6 1026.8,539.1 1027.6,540.5 1028.4,540.8 1029.2,540.1 1030.0,540.4 1030.8,541.9 1031.6,538.9 1032.4,539.9 1033.2,539.2 1034.0,542.1 1034.8,540.7 1035.6,542.7 1036.4,542.9 1037.2,543.5 1038.0,546.6 1038.8,544.7 1039.6,547.6 1040.4,547.3 1041.2,548.6 1042.0,547.1 1042.8,549.3 1043.6,549.6 1044.4,548.2 1045.2,550.1 1046.0,550.1 1046.8,550.2 1047.6,552.1 1048.4,549.1 1049.2,547.7 1050.0,547.5 1050.8,549.4 1051.6,549.0 1052.4,549.9 1053.2,550.7 1054.0,552.4 1054.8,550.3 1055.6,550.5 1056.4,548.8 1057.2,550.7 1058.0,551.8 1058.8,551.8 1059.6,547.0 1060.4,551.8 1061.2,553.5 1062.0,553.1 1062.8,550.0 1063.6,551.1 1064.4,551.8 1065.2,550.9 1066.0,548.5 1066.8,547.8 1067.6,549.9 1068.4,546.0 1069.2,549.4 1070.0,546.9 1070.8,546.9 1071.6,544.1 1072.4,544.7 1073.2,546.2 1074.0,543.2 1074.8,548.5 1075.6,543.7 1076.4,544.3 1077.2,546.3 1078.0,547.2 1078.8,547.8 1079.6,546.4 1080.4,546.9 1081.2,547.1 1082.0,546.8 1082.8,544.0 1083.6,549.1 1084.4,548.2 1085.2,548.1 1086.0,547.1 1086.8,548.4 1087.6,548.1 1088.4,548.1 1089.2,549.9 1090.0,545.7 1090.8,548.3 1091.6,546.1 1092.4,546.8 1093.2,549.2 1094.0,545.1 1094.8,546.3 1095.6,545.3 1096.4,547.2 1097.2,544.4 1098.0,543.3 1098.8,546.4 1099.6,545.0 1100.4,545.0 1101.2,547.0 1102.0,544.0 1102.8,544.7 1103.6,545.4 1104.4,545.7 1105.2,544.4 1106.0,546.7 1106.8,548.5 1107.6,544.8 1108.4,548.1 1109.2,542.5 1110.0,547.6 1110.8,545.1 1111.6,545.9 1112.4,545.3 1113.2,544.9 1114.0,544.1 1114.8,545.5 1115.6,548.2 1116.4,548.1 1117.2,546.2 1118.0,546.1 1118.8,546.1 1119.6,545.6 1120.4,550.1 1121.2,548.2 1122.0,547.1 1122.8,545.9 1123.6,544.9 1124.4,547.9 1125.2,546.8 1126.0,544.0 1126.8,546.5 1127.6,543.1 1128.4,545.3 1129.2,542.9 1130.0,543.7 1130.8,545.0 1131.6,544.9 1132.4,545.7 1133.2,543.1 1134.0,546.6 1134.8,546.2 1135.6,544.3 1136.4,544.9 1137.2,543.1 1138.0,543.9 1138.8,542.1 1139.6,544.1 1140.4,544.1 1141.2,545.7 1142.0,545.0 1142.8,544.7 1143.6,543.0 1144.4,543.4 1145.2,543.4 1146.0,544.4 1146.8,541.5 1147.6,545.6 1148.4,542.5 1149.2,544.2 1150.0,545.1 1150.8,544.2 1151.6,547.2 1152.4,544.6 1153.2,546.9 1154.0,546.2 1154.8,543.7 1155.6,544.9" fill="none" stroke="#D95319" stroke-width="2.1" stroke-opacity="0.9" stroke-linejoin="round"/><polyline points="116.4,531.7 117.2,529.2 118.0,529.6 118.8,528.5 119.6,529.2 120.4,528.4 121.2,528.8 122.0,529.9 122.8,530.3 123.6,528.5 124.4,529.0 125.2,530.4 126.0,529.1 126.8,528.4 127.6,531.9 128.4,529.4 129.2,532.5 130.0,530.1 130.8,534.6 131.6,530.8 132.4,533.4 133.2,534.1 134.0,530.4 134.8,533.7 135.6,530.2 136.4,528.6 137.2,532.0 138.0,531.8 138.8,530.8 139.6,528.0 140.4,532.1 141.2,532.3 142.0,532.8 142.8,533.5 143.6,531.9 144.4,533.9 145.2,537.0 146.0,536.3 146.8,533.2 147.6,532.3 148.4,533.6 149.2,534.2 150.0,533.4 150.8,530.7 151.6,532.7 152.4,532.8 153.2,534.7 154.0,534.5 154.8,533.6 155.6,534.7 156.4,532.4 157.2,535.3 158.0,532.5 158.8,533.7 159.6,534.3 160.4,531.5 161.2,531.7 162.0,530.0 162.8,532.7 163.6,532.2 164.4,531.7 165.2,532.7 166.0,528.8 166.8,531.7 167.6,531.7 168.4,531.1 169.2,532.3 170.0,533.3 170.8,529.8 171.6,528.8 172.4,528.9 173.2,529.6 174.0,530.0 174.8,527.5 175.6,529.9 176.4,526.6 177.2,529.0 178.0,528.1 178.8,528.2 179.6,531.0 180.4,527.8 181.2,528.2 182.0,529.5 182.8,530.3 183.6,527.4 184.4,530.1 185.2,528.7 186.0,530.4 186.8,531.2 187.6,529.0 188.4,528.5 189.2,528.7 190.0,523.9 190.8,529.0 191.6,528.4 192.4,527.6 193.2,526.5 194.0,525.8 194.8,526.3 195.6,528.3 196.4,526.4 197.2,528.5 198.0,522.8 198.8,525.9 199.6,526.9 200.4,526.5 201.2,524.1 202.0,525.6 202.8,528.3 203.6,524.6 204.4,524.8 205.2,524.4 206.0,525.0 206.8,526.5 207.6,526.3 208.4,522.3 209.2,527.1 210.0,523.9 210.8,523.6 211.6,526.6 212.4,523.8 213.2,521.8 214.0,522.4 214.8,521.9 215.6,521.2 216.4,521.9 217.2,523.5 218.0,522.7 218.8,520.1 219.6,526.0 220.4,520.4 221.2,521.9 222.0,521.7 222.8,522.7 223.6,521.3 224.4,522.8 225.2,525.6 226.0,523.1 226.8,521.8 227.6,524.2 228.4,522.7 229.2,523.0 230.0,523.4 230.8,523.2 231.6,521.9 232.4,523.1 233.2,521.2 234.0,519.5 234.8,522.5 235.6,520.5 236.4,522.6 237.2,519.8 238.0,521.4 238.8,520.9 239.6,516.4 240.4,517.9 241.2,518.3 242.0,521.8 242.8,516.9 243.6,521.1 244.4,521.7 245.2,521.1 246.0,521.7 246.8,520.4 247.6,521.4 248.4,522.1 249.2,522.7 250.0,523.3 250.8,521.8 251.6,520.9 252.4,520.9 253.2,522.1 254.0,518.9 254.8,519.3 255.6,520.3 256.4,519.9 257.2,520.2 258.0,516.7 258.8,520.0 259.6,520.1 260.4,521.5 261.2,517.4 262.0,519.8 262.8,520.9 263.6,520.8 264.4,521.8 265.2,521.5 266.0,518.4 266.8,521.3 267.6,520.9 268.4,521.2 269.2,525.6 270.0,523.0 270.8,522.4 271.6,522.7 272.4,521.8 273.2,524.2 274.0,523.0 274.8,524.1 275.6,522.4 276.4,520.6 277.2,523.0 278.0,520.6 278.8,520.9 279.6,521.3 280.4,521.6 281.2,523.3 282.0,520.7 282.8,522.0 283.6,521.5 284.4,519.7 285.2,520.0 286.0,521.2 286.8,522.2 287.6,522.3 288.4,522.7 289.2,522.3 290.0,521.8 290.8,523.3 291.6,521.4 292.4,521.1 293.2,522.7 294.0,521.1 294.8,522.5 295.6,522.1 296.4,522.4 297.2,523.1 298.0,522.0 298.8,522.6 299.6,520.7 300.4,523.4 301.2,522.1 302.0,524.3 302.8,519.9 303.6,523.2 304.4,525.0 305.2,521.3 306.0,524.0 306.8,524.4 307.6,524.1 308.4,521.5 309.2,523.7 310.0,523.4 310.8,521.8 311.6,524.3 312.4,523.1 313.2,523.2 314.0,522.5 314.8,524.0 315.6,523.3 316.4,524.8 317.2,524.0 318.0,522.6 318.8,523.3 319.6,525.1 320.4,523.4 321.2,524.7 322.0,525.0 322.8,524.2 323.6,521.2 324.4,524.9 325.2,525.1 326.0,524.8 326.8,523.4 327.6,526.1 328.4,524.0 329.2,523.1 330.0,522.8 330.8,524.2 331.6,521.9 332.4,521.9 333.2,526.1 334.0,525.2 334.8,525.0 335.6,525.6 336.4,524.7 337.2,521.5 338.0,525.9 338.8,526.1 339.6,525.2 340.4,521.8 341.2,526.6 342.0,527.1 342.8,524.9 343.6,526.3 344.4,527.7 345.2,527.0 346.0,529.2 346.8,528.2 347.6,529.6 348.4,529.0 349.2,526.1 350.0,526.1 350.8,531.5 351.6,526.6 352.4,527.5 353.2,526.6 354.0,527.3 354.8,525.5 355.6,523.8 356.4,524.6 357.2,521.7 358.0,524.2 358.8,525.7 359.6,521.2 360.4,524.5 361.2,525.4 362.0,526.1 362.8,522.7 363.6,523.0 364.4,520.9 365.2,521.9 366.0,523.9 366.8,525.8 367.6,520.9 368.4,524.7 369.2,524.8 370.0,524.9 370.8,530.3 371.6,524.9 372.4,529.9 373.2,531.8 374.0,534.1 374.8,533.1 375.6,533.3 376.4,529.7 377.2,530.5 378.0,530.5 378.8,528.8 379.6,528.0 380.4,527.3 381.2,527.3 382.0,526.4 382.8,531.3 383.6,528.1 384.4,526.0 385.2,529.7 386.0,529.6 386.8,530.1 387.6,532.5 388.4,529.7 389.2,529.5 390.0,528.8 390.8,529.8 391.6,529.2 392.4,530.1 393.2,534.4 394.0,530.4 394.8,528.6 395.6,532.7 396.4,531.1 397.2,531.2 398.0,531.3 398.8,531.6 399.6,531.6 400.4,532.9 401.2,532.5 402.0,533.2 402.8,530.7 403.6,531.6 404.4,530.8 405.2,533.4 406.0,533.4 406.8,531.6 407.6,533.1 408.4,536.0 409.2,533.9 410.0,530.4 410.8,531.9 411.6,532.8 412.4,531.8 413.2,532.4 414.0,533.4 414.8,532.1 415.6,530.0 416.4,532.6 417.2,531.6 418.0,532.1 418.8,531.3 419.6,530.3 420.4,530.7 421.2,532.2 422.0,531.3 422.8,529.1 423.6,535.0 424.4,531.8 425.2,532.6 426.0,534.7 426.8,530.4 427.6,535.7 428.4,532.4 429.2,534.3 430.0,532.4 430.8,533.4 431.6,532.9 432.4,532.5 433.2,529.6 434.0,529.8 434.8,531.4 435.6,533.2 436.4,529.9 437.2,531.1 438.0,530.1 438.8,531.2 439.6,532.6 440.4,529.7 441.2,533.0 442.0,533.0 442.8,533.5 443.6,533.4 444.4,534.2 445.2,533.9 446.0,533.4 446.8,538.3 447.6,536.7 448.4,533.9 449.2,534.5 450.0,531.9 450.8,529.6 451.6,531.4 452.4,534.7 453.2,537.0 454.0,535.2 454.8,534.2 455.6,535.7 456.4,535.0 457.2,534.1 458.0,535.4 458.8,534.7 459.6,533.7 460.4,533.2 461.2,532.7 462.0,534.1 462.8,535.3 463.6,532.9 464.4,536.4 465.2,530.8 466.0,533.6 466.8,531.5 467.6,532.9 468.4,533.3 469.2,534.0 470.0,534.8 470.8,532.4 471.6,531.4 472.4,532.9 473.2,533.7 474.0,532.5 474.8,535.1 475.6,536.6 476.4,532.4 477.2,535.3 478.0,536.5 478.8,532.5 479.6,535.9 480.4,535.1 481.2,533.0 482.0,536.7 482.8,534.8 483.6,533.5 484.4,534.6 485.2,534.6 486.0,534.4 486.8,534.2 487.6,534.3 488.4,532.4 489.2,533.9 490.0,535.0 490.8,530.6 491.6,537.6 492.4,533.7 493.2,532.5 494.0,531.2 494.8,534.0 495.6,533.5 496.4,532.4 497.2,532.4 498.0,531.5 498.8,531.5 499.6,532.2 500.4,531.9 501.2,534.3 502.0,533.6 502.8,534.5 503.6,535.4 504.4,537.2 505.2,536.5 506.0,535.7 506.8,534.9 507.6,533.7 508.4,534.1 509.2,535.4 510.0,534.5 510.8,533.4 511.6,531.7 512.4,531.2 513.2,533.7 514.0,534.6 514.8,533.5 515.6,530.9 516.4,532.5 517.2,533.0 518.0,531.2 518.8,533.0 519.6,532.1 520.4,531.1 521.2,530.4 522.0,533.3 522.8,532.5 523.6,530.6 524.4,530.3 525.2,533.0 526.0,532.5 526.8,531.1 527.6,534.0 528.4,531.4 529.2,530.4 530.0,533.7 530.8,531.9 531.6,532.9 532.4,532.5 533.2,531.1 534.0,531.0 534.8,532.6 535.6,535.1 536.4,531.7 537.2,535.3 538.0,533.8 538.8,532.0 539.6,534.2 540.4,534.8 541.2,532.8 542.0,531.1 542.8,534.9 543.6,533.0 544.4,535.4 545.2,532.0 546.0,534.4 546.8,533.2 547.6,532.0 548.4,533.6 549.2,534.0 550.0,532.8 550.8,531.6 551.6,533.5 552.4,530.8 553.2,534.4 554.0,534.5 554.8,536.4 555.6,535.5 556.4,534.9 557.2,535.0 558.0,534.8 558.8,533.1 559.6,537.3 560.4,536.2 561.2,535.2 562.0,534.0 562.8,538.0 563.6,536.7 564.4,534.2 565.2,537.0 566.0,538.9 566.8,536.2 567.6,536.9 568.4,535.8 569.2,535.5 570.0,538.1 570.8,541.0 571.6,536.7 572.4,536.3 573.2,537.7 574.0,536.1 574.8,537.6 575.6,537.7 576.4,535.0 577.2,534.6 578.0,535.7 578.8,536.6 579.6,535.4 580.4,536.4 581.2,532.2 582.0,534.5 582.8,532.5 583.6,533.3 584.4,533.6 585.2,531.8 586.0,532.8 586.8,531.5 587.6,533.6 588.4,531.9 589.2,532.5 590.0,533.5 590.8,532.0 591.6,534.4 592.4,531.6 593.2,533.6 594.0,532.5 594.8,530.4 595.6,531.4 596.4,530.3 597.2,531.2 598.0,531.5 598.8,534.7 599.6,531.7 600.4,534.8 601.2,533.3 602.0,531.0 602.8,529.7 603.6,534.3 604.4,530.6 605.2,534.7 606.0,535.4 606.8,534.6 607.6,533.6 608.4,533.5 609.2,534.2 610.0,533.3 610.8,532.9 611.6,533.0 612.4,535.2 613.2,532.5 614.0,533.9 614.8,531.6 615.6,532.2 616.4,531.2 617.2,533.0 618.0,534.4 618.8,534.0 619.6,533.0 620.4,534.7 621.2,533.5 622.0,534.6 622.8,534.6 623.6,535.2 624.4,530.9 625.2,532.7 626.0,535.9 626.8,534.6 627.6,537.8 628.4,534.0 629.2,533.4 630.0,536.1 630.8,534.6 631.6,536.3 632.4,534.1 633.2,532.9 634.0,534.0 634.8,531.6 635.6,531.9 636.4,531.5 637.2,532.4 638.0,534.3 638.8,532.8 639.6,534.4 640.4,533.6 641.2,536.0 642.0,531.1 642.8,535.2 643.6,536.0 644.4,534.4 645.2,537.7 646.0,536.7 646.8,538.5 647.6,538.2 648.4,537.9 649.2,537.0 650.0,535.8 650.8,537.3 651.6,537.1 652.4,538.4 653.2,537.5 654.0,542.8 654.8,536.1 655.6,540.3 656.4,538.0 657.2,538.5 658.0,540.3 658.8,539.1 659.6,537.5 660.4,540.0 661.2,539.2 662.0,536.7 662.8,540.1 663.6,538.2 664.4,538.5 665.2,540.1 666.0,539.7 666.8,538.7 667.6,542.1 668.4,539.4 669.2,537.7 670.0,538.8 670.8,538.1 671.6,534.9 672.4,535.6 673.2,535.7 674.0,540.5 674.8,537.0 675.6,536.7 676.4,536.1 677.2,538.1 678.0,536.6 678.8,539.3 679.6,538.3 680.4,539.6 681.2,537.0 682.0,537.5 682.8,536.2 683.6,536.5 684.4,534.1 685.2,537.0 686.0,538.5 686.8,540.5 687.6,543.0 688.4,541.4 689.2,542.6 690.0,541.5 690.8,540.7 691.6,539.9 692.4,536.7 693.2,537.8 694.0,536.2 694.8,536.2 695.6,538.9 696.4,540.5 697.2,536.2 698.0,540.4 698.8,539.3 699.6,537.1 700.4,538.9 701.2,539.3 702.0,539.5 702.8,538.7 703.6,537.6 704.4,539.7 705.2,541.1 706.0,541.1 706.8,541.0 707.6,541.7 708.4,538.7 709.2,540.2 710.0,540.8 710.8,541.9 711.6,540.7 712.4,541.3 713.2,540.9 714.0,543.5 714.8,537.1 715.6,540.0 716.4,543.5 717.2,540.0 718.0,536.8 718.8,539.5 719.6,537.0 720.4,537.9 721.2,539.0 722.0,541.0 722.8,539.0 723.6,539.2 724.4,539.8 725.2,538.8 726.0,537.4 726.8,538.6 727.6,539.4 728.4,538.6 729.2,538.2 730.0,538.8 730.8,537.3 731.6,538.1 732.4,539.6 733.2,539.3 734.0,540.0 734.8,542.0 735.6,540.5 736.4,540.1 737.2,538.5 738.0,538.7 738.8,540.8 739.6,539.1 740.4,541.0 741.2,538.9 742.0,540.8 742.8,540.5 743.6,542.0 744.4,539.9 745.2,539.7 746.0,540.5 746.8,540.0 747.6,542.2 748.4,539.3 749.2,538.7 750.0,538.9 750.8,539.8 751.6,539.4 752.4,540.9 753.2,538.7 754.0,545.0 754.8,544.9 755.6,543.0 756.4,542.1 757.2,544.9 758.0,546.1 758.8,542.1 759.6,545.0 760.4,542.4 761.2,544.8 762.0,545.8 762.8,544.9 763.6,540.8 764.4,544.6 765.2,543.6 766.0,541.8 766.8,543.1 767.6,544.5 768.4,541.9 769.2,542.3 770.0,541.5 770.8,544.0 771.6,539.2 772.4,544.4 773.2,540.9 774.0,543.9 774.8,540.4 775.6,541.6 776.4,542.3 777.2,544.5 778.0,541.2 778.8,544.6 779.6,543.0 780.4,545.9 781.2,543.9 782.0,545.2 782.8,544.5 783.6,547.5 784.4,544.4 785.2,545.0 786.0,547.9 786.8,545.2 787.6,546.2 788.4,544.2 789.2,545.6 790.0,542.1 790.8,545.6 791.6,544.6 792.4,543.4 793.2,543.6 794.0,547.4 794.8,546.5 795.6,543.8 796.4,548.7 797.2,545.2 798.0,545.7 798.8,546.7 799.6,544.8 800.4,544.4 801.2,546.0 802.0,549.1 802.8,549.1 803.6,545.7 804.4,550.1 805.2,548.7 806.0,549.7 806.8,549.4 807.6,550.2 808.4,548.3 809.2,548.3 810.0,548.4 810.8,548.7 811.6,550.0 812.4,547.2 813.2,551.1 814.0,547.7 814.8,547.6 815.6,549.3 816.4,548.8 817.2,547.5 818.0,546.3 818.8,546.3 819.6,545.3 820.4,549.1 821.2,548.9 822.0,549.9 822.8,547.8 823.6,547.4 824.4,547.9 825.2,548.1 826.0,546.2 826.8,546.9 827.6,549.4 828.4,543.7 829.2,544.0 830.0,544.5 830.8,546.8 831.6,547.3 832.4,545.0 833.2,546.3 834.0,545.2 834.8,545.5 835.6,544.2 836.4,544.8 837.2,545.5 838.0,547.9 838.8,550.1 839.6,545.0 840.4,549.1 841.2,549.0 842.0,551.1 842.8,552.0 843.6,551.7 844.4,551.7 845.2,549.1 846.0,547.9 846.8,552.7 847.6,552.0 848.4,548.8 849.2,552.0 850.0,551.0 850.8,546.5 851.6,551.2 852.4,548.4 853.2,551.5 854.0,549.1 854.8,549.3 855.6,548.4 856.4,550.5 857.2,552.5 858.0,550.3 858.8,548.9 859.6,554.9 860.4,554.7 861.2,553.3 862.0,551.3 862.8,550.1 863.6,549.3 864.4,552.2 865.2,553.1 866.0,549.4 866.8,550.7 867.6,550.1 868.4,549.9 869.2,550.7 870.0,552.9 870.8,549.5 871.6,552.2 872.4,553.0 873.2,551.6 874.0,552.3 874.8,551.1 875.6,554.7 876.4,552.4 877.2,552.2 878.0,553.2 878.8,551.9 879.6,551.6 880.4,552.4 881.2,554.6 882.0,551.8 882.8,552.5 883.6,549.5 884.4,549.3 885.2,555.2 886.0,552.5 886.8,551.3 887.6,553.9 888.4,555.4 889.2,552.5 890.0,554.2 890.8,556.3 891.6,555.1 892.4,557.3 893.2,557.2 894.0,556.2 894.8,554.6 895.6,554.8 896.4,553.6 897.2,554.1 898.0,554.4 898.8,553.2 899.6,554.7 900.4,556.7 901.2,551.9 902.0,552.8 902.8,553.2 903.6,552.6 904.4,551.0 905.2,550.4 906.0,552.2 906.8,551.3 907.6,550.8 908.4,548.8 909.2,552.0 910.0,553.3 910.8,552.9 911.6,555.2 912.4,558.5 913.2,553.7 914.0,557.0 914.8,554.0 915.6,553.3 916.4,554.6 917.2,555.3 918.0,554.2 918.8,552.0 919.6,551.2 920.4,552.2 921.2,552.7 922.0,551.2 922.8,550.0 923.6,554.5 924.4,550.4 925.2,551.2 926.0,550.3 926.8,550.0 927.6,550.6 928.4,549.9 929.2,550.9 930.0,548.2 930.8,548.2 931.6,553.7 932.4,551.2 933.2,552.9 934.0,554.0 934.8,553.6 935.6,553.3 936.4,551.5 937.2,551.9 938.0,556.1 938.8,555.7 939.6,555.5 940.4,552.1 941.2,551.3 942.0,552.8 942.8,552.5 943.6,554.4 944.4,552.6 945.2,556.1 946.0,552.6 946.8,552.4 947.6,554.1 948.4,553.0 949.2,550.9 950.0,553.1 950.8,554.4 951.6,549.5 952.4,550.6 953.2,549.1 954.0,548.2 954.8,552.4 955.6,552.9 956.4,553.7 957.2,553.3 958.0,550.1 958.8,553.4 959.6,552.9 960.4,552.0 961.2,551.7 962.0,554.0 962.8,552.1 963.6,555.0 964.4,552.4 965.2,548.5 966.0,552.2 966.8,552.3 967.6,550.1 968.4,548.1 969.2,552.5 970.0,548.1 970.8,550.0 971.6,547.4 972.4,548.4 973.2,547.8 974.0,552.0 974.8,552.2 975.6,550.0 976.4,548.7 977.2,550.5 978.0,551.0 978.8,548.1 979.6,548.6 980.4,550.0 981.2,551.1 982.0,550.1 982.8,550.5 983.6,548.2 984.4,546.8 985.2,551.3 986.0,549.9 986.8,551.5 987.6,551.5 988.4,553.1 989.2,551.7 990.0,555.1 990.8,552.4 991.6,552.5 992.4,552.0 993.2,552.0 994.0,550.4 994.8,546.6 995.6,547.7 996.4,550.7 997.2,548.0 998.0,547.5 998.8,546.7 999.6,544.5 1000.4,543.8 1001.2,544.0 1002.0,547.3 1002.8,546.9 1003.6,549.6 1004.4,548.4 1005.2,551.2 1006.0,549.8 1006.8,547.7 1007.6,551.9 1008.4,549.7 1009.2,550.9 1010.0,549.4 1010.8,548.5 1011.6,549.1 1012.4,547.1 1013.2,546.9 1014.0,547.2 1014.8,547.7 1015.6,546.4 1016.4,548.1 1017.2,548.7 1018.0,551.1 1018.8,550.8 1019.6,548.0 1020.4,549.3 1021.2,547.7 1022.0,548.5 1022.8,547.8 1023.6,547.0 1024.4,547.8 1025.2,545.4 1026.0,548.1 1026.8,546.9 1027.6,545.6 1028.4,546.5 1029.2,547.8 1030.0,545.8 1030.8,547.4 1031.6,547.4 1032.4,548.7 1033.2,544.7 1034.0,546.6 1034.8,548.7 1035.6,551.3 1036.4,550.7 1037.2,552.4 1038.0,549.6 1038.8,551.3 1039.6,555.1 1040.4,552.7 1041.2,556.7 1042.0,552.9 1042.8,554.0 1043.6,552.5 1044.4,555.5 1045.2,554.7 1046.0,557.0 1046.8,554.1 1047.6,553.2 1048.4,551.2 1049.2,552.9 1050.0,554.2 1050.8,554.1 1051.6,555.2 1052.4,554.9 1053.2,553.9 1054.0,555.1 1054.8,554.8 1055.6,552.9 1056.4,557.7 1057.2,556.0 1058.0,554.3 1058.8,556.7 1059.6,556.9 1060.4,558.3 1061.2,559.3 1062.0,553.0 1062.8,558.3 1063.6,559.1 1064.4,554.9 1065.2,552.9 1066.0,555.5 1066.8,555.0 1067.6,554.4 1068.4,551.6 1069.2,552.0 1070.0,552.5 1070.8,552.8 1071.6,554.5 1072.4,551.2 1073.2,549.3 1074.0,546.2 1074.8,550.9 1075.6,549.4 1076.4,549.9 1077.2,549.0 1078.0,552.1 1078.8,548.8 1079.6,552.1 1080.4,552.6 1081.2,553.4 1082.0,555.3 1082.8,553.7 1083.6,554.0 1084.4,554.8 1085.2,550.9 1086.0,552.5 1086.8,552.7 1087.6,553.7 1088.4,550.7 1089.2,552.8 1090.0,551.9 1090.8,548.8 1091.6,548.6 1092.4,548.8 1093.2,551.2 1094.0,551.3 1094.8,552.2 1095.6,552.4 1096.4,550.4 1097.2,552.9 1098.0,552.6 1098.8,552.1 1099.6,552.2 1100.4,549.6 1101.2,552.2 1102.0,550.2 1102.8,550.0 1103.6,551.3 1104.4,552.1 1105.2,551.9 1106.0,551.5 1106.8,550.6 1107.6,552.4 1108.4,551.1 1109.2,550.2 1110.0,552.5 1110.8,554.6 1111.6,552.0 1112.4,551.2 1113.2,555.1 1114.0,555.8 1114.8,553.0 1115.6,553.3 1116.4,554.1 1117.2,558.4 1118.0,554.0 1118.8,555.0 1119.6,554.0 1120.4,550.3 1121.2,551.1 1122.0,550.7 1122.8,552.9 1123.6,552.1 1124.4,554.4 1125.2,551.0 1126.0,551.6 1126.8,551.0 1127.6,551.9 1128.4,556.6 1129.2,554.9 1130.0,558.1 1130.8,558.4 1131.6,555.5 1132.4,557.3 1133.2,555.6 1134.0,556.3 1134.8,556.3 1135.6,556.0 1136.4,555.2 1137.2,558.1 1138.0,555.3 1138.8,556.7 1139.6,558.2 1140.4,556.6 1141.2,557.2 1142.0,557.8 1142.8,557.3 1143.6,558.3 1144.4,553.5 1145.2,558.6 1146.0,555.7 1146.8,553.0 1147.6,554.5 1148.4,553.3 1149.2,555.2 1150.0,552.8 1150.8,553.4 1151.6,555.2 1152.4,554.9 1153.2,553.3 1154.0,554.0 1154.8,554.1 1155.6,554.2" fill="none" stroke="#EDB120" stroke-width="2.1" stroke-opacity="0.9" stroke-linejoin="round"/><polyline points="116.4,546.5 117.2,545.3 118.0,546.0 118.8,541.4 119.6,542.1 120.4,542.2 121.2,541.7 122.0,543.0 122.8,544.8 123.6,547.4 124.4,550.5 125.2,549.7 126.0,550.1 126.8,551.5 127.6,551.1 128.4,549.1 129.2,552.9 130.0,552.4 130.8,552.6 131.6,554.9 132.4,553.7 133.2,552.5 134.0,549.8 134.8,550.1 135.6,552.4 136.4,551.9 137.2,552.4 138.0,551.8 138.8,550.4 139.6,548.9 140.4,549.3 141.2,551.2 142.0,550.1 142.8,553.4 143.6,550.8 144.4,550.6 145.2,553.4 146.0,551.5 146.8,557.1 147.6,553.6 148.4,555.5 149.2,555.7 150.0,555.2 150.8,553.6 151.6,553.2 152.4,557.0 153.2,557.0 154.0,558.5 154.8,552.8 155.6,555.6 156.4,554.5 157.2,555.6 158.0,553.3 158.8,555.2 159.6,555.5 160.4,555.2 161.2,556.6 162.0,554.3 162.8,557.1 163.6,553.8 164.4,557.5 165.2,551.0 166.0,555.3 166.8,554.2 167.6,555.5 168.4,557.1 169.2,556.1 170.0,554.7 170.8,556.6 171.6,551.3 172.4,551.8 173.2,554.8 174.0,552.5 174.8,548.4 175.6,552.7 176.4,551.2 177.2,556.0 178.0,556.3 178.8,553.5 179.6,555.6 180.4,551.7 181.2,553.6 182.0,552.4 182.8,550.7 183.6,548.1 184.4,549.5 185.2,546.6 186.0,549.4 186.8,547.7 187.6,552.4 188.4,549.3 189.2,547.3 190.0,552.0 190.8,551.9 191.6,550.7 192.4,554.8 193.2,552.8 194.0,551.9 194.8,550.9 195.6,547.6 196.4,552.8 197.2,553.6 198.0,551.4 198.8,549.9 199.6,551.5 200.4,548.7 201.2,550.8 202.0,551.6 202.8,552.3 203.6,550.0 204.4,549.5 205.2,550.0 206.0,550.7 206.8,547.9 207.6,546.2 208.4,546.6 209.2,545.6 210.0,545.9 210.8,546.8 211.6,547.2 212.4,546.7 213.2,546.3 214.0,545.4 214.8,546.3 215.6,547.4 216.4,547.6 217.2,549.1 218.0,546.8 218.8,547.3 219.6,550.6 220.4,548.7 221.2,549.5 222.0,548.4 222.8,550.2 223.6,548.0 224.4,546.9 225.2,548.2 226.0,547.4 226.8,549.2 227.6,547.2 228.4,547.8 229.2,547.1 230.0,547.8 230.8,546.0 231.6,548.3 232.4,544.2 233.2,545.5 234.0,544.7 234.8,546.4 235.6,545.2 236.4,545.6 237.2,544.3 238.0,543.7 238.8,543.1 239.6,544.3 240.4,544.0 241.2,545.2 242.0,545.4 242.8,546.3 243.6,544.7 244.4,543.7 245.2,543.2 246.0,544.9 246.8,545.4 247.6,547.7 248.4,545.1 249.2,547.5 250.0,547.6 250.8,543.3 251.6,546.6 252.4,546.5 253.2,546.9 254.0,545.0 254.8,546.7 255.6,544.7 256.4,545.5 257.2,545.9 258.0,548.7 258.8,545.9 259.6,547.9 260.4,546.3 261.2,544.7 262.0,545.7 262.8,546.0 263.6,543.5 264.4,545.1 265.2,542.7 266.0,542.0 266.8,544.1 267.6,544.6 268.4,544.7 269.2,544.9 270.0,548.1 270.8,548.0 271.6,546.5 272.4,547.1 273.2,544.1 274.0,546.6 274.8,546.2 275.6,545.6 276.4,543.9 277.2,545.3 278.0,545.7 278.8,547.4 279.6,546.5 280.4,546.8 281.2,545.7 282.0,548.4 282.8,549.1 283.6,547.0 284.4,549.0 285.2,548.5 286.0,547.7 286.8,545.5 287.6,549.8 288.4,544.1 289.2,547.1 290.0,545.8 290.8,547.8 291.6,545.2 292.4,545.6 293.2,546.2 294.0,545.7 294.8,544.1 295.6,546.0 296.4,545.7 297.2,546.7 298.0,544.5 298.8,545.3 299.6,544.9 300.4,544.4 301.2,545.9 302.0,546.0 302.8,547.4 303.6,544.6 304.4,545.5 305.2,546.6 306.0,545.0 306.8,545.6 307.6,546.0 308.4,545.0 309.2,544.8 310.0,548.4 310.8,547.7 311.6,548.0 312.4,546.5 313.2,548.8 314.0,550.7 314.8,547.5 315.6,548.1 316.4,551.4 317.2,550.0 318.0,547.4 318.8,543.4 319.6,545.5 320.4,543.9 321.2,546.2 322.0,545.3 322.8,546.5 323.6,548.6 324.4,547.5 325.2,547.0 326.0,547.4 326.8,547.7 327.6,546.6 328.4,547.6 329.2,548.2 330.0,549.6 330.8,544.2 331.6,545.5 332.4,545.5 333.2,548.6 334.0,551.0 334.8,547.8 335.6,547.7 336.4,549.3 337.2,544.1 338.0,547.5 338.8,543.2 339.6,548.2 340.4,547.3 341.2,547.4 342.0,549.0 342.8,548.3 343.6,551.6 344.4,550.6 345.2,551.9 346.0,555.8 346.8,552.0 347.6,554.8 348.4,552.7 349.2,555.4 350.0,554.5 350.8,552.9 351.6,553.8 352.4,554.3 353.2,553.6 354.0,551.1 354.8,550.6 355.6,552.3 356.4,548.5 357.2,549.8 358.0,551.4 358.8,551.5 359.6,553.4 360.4,553.3 361.2,551.1 362.0,551.3 362.8,548.7 363.6,550.5 364.4,551.5 365.2,551.1 366.0,551.8 366.8,552.9 367.6,550.9 368.4,551.7 369.2,550.2 370.0,554.9 370.8,552.0 371.6,551.5 372.4,555.5 373.2,554.5 374.0,554.7 374.8,551.1 375.6,553.2 376.4,549.5 377.2,549.0 378.0,549.8 378.8,550.1 379.6,552.4 380.4,555.0 381.2,552.2 382.0,551.8 382.8,554.8 383.6,556.0 384.4,552.7 385.2,554.4 386.0,554.5 386.8,557.3 387.6,557.7 388.4,556.2 389.2,555.7 390.0,558.5 390.8,554.5 391.6,558.5 392.4,557.4 393.2,560.6 394.0,559.3 394.8,557.0 395.6,557.5 396.4,557.6 397.2,557.0 398.0,558.2 398.8,559.5 399.6,555.8 400.4,557.6 401.2,560.0 402.0,558.9 402.8,556.5 403.6,556.4 404.4,556.2 405.2,555.1 406.0,559.1 406.8,557.4 407.6,556.1 408.4,554.9 409.2,556.4 410.0,556.1 410.8,559.3 411.6,556.0 412.4,556.7 413.2,558.1 414.0,557.7 414.8,556.8 415.6,554.1 416.4,559.6 417.2,558.7 418.0,557.5 418.8,558.2 419.6,557.2 420.4,557.6 421.2,557.0 422.0,560.2 422.8,560.5 423.6,560.0 424.4,560.8 425.2,560.4 426.0,559.7 426.8,558.2 427.6,560.3 428.4,561.1 429.2,560.2 430.0,561.1 430.8,558.5 431.6,557.7 432.4,560.9 433.2,558.1 434.0,559.1 434.8,558.3 435.6,558.5 436.4,557.9 437.2,557.4 438.0,555.4 438.8,560.6 439.6,558.0 440.4,554.7 441.2,556.0 442.0,555.8 442.8,556.6 443.6,554.2 444.4,559.0 445.2,560.8 446.0,558.3 446.8,560.0 447.6,560.0 448.4,557.6 449.2,561.4 450.0,557.3 450.8,558.8 451.6,559.0 452.4,561.3 453.2,559.5 454.0,559.1 454.8,558.0 455.6,559.2 456.4,559.0 457.2,560.3 458.0,561.5 458.8,560.8 459.6,560.0 460.4,559.9 461.2,562.8 462.0,560.9 462.8,560.9 463.6,563.8 464.4,563.7 465.2,562.2 466.0,560.9 466.8,559.9 467.6,562.2 468.4,559.7 469.2,561.5 470.0,558.7 470.8,559.8 471.6,560.0 472.4,559.4 473.2,559.4 474.0,560.3 474.8,558.8 475.6,559.5 476.4,561.5 477.2,565.1 478.0,562.9 478.8,561.5 479.6,561.5 480.4,562.2 481.2,563.6 482.0,560.7 482.8,562.0 483.6,561.2 484.4,560.1 485.2,558.9 486.0,559.7 486.8,558.7 487.6,560.6 488.4,557.2 489.2,561.5 490.0,560.9 490.8,560.6 491.6,562.0 492.4,560.7 493.2,557.3 494.0,559.9 494.8,560.5 495.6,558.8 496.4,558.1 497.2,560.7 498.0,561.3 498.8,560.4 499.6,561.1 500.4,561.0 501.2,561.3 502.0,562.3 502.8,564.3 503.6,560.7 504.4,562.9 505.2,566.1 506.0,564.3 506.8,563.6 507.6,564.2 508.4,561.0 509.2,560.3 510.0,559.1 510.8,559.0 511.6,561.0 512.4,561.7 513.2,559.6 514.0,559.0 514.8,560.4 515.6,560.5 516.4,559.8 517.2,556.5 518.0,558.2 518.8,555.4 519.6,559.7 520.4,558.3 521.2,558.7 522.0,562.1 522.8,562.0 523.6,561.0 524.4,560.9 525.2,560.9 526.0,560.0 526.8,561.0 527.6,564.0 528.4,560.1 529.2,560.6 530.0,562.0 530.8,563.2 531.6,563.3 532.4,560.8 533.2,562.2 534.0,562.2 534.8,560.9 535.6,563.0 536.4,562.4 537.2,564.5 538.0,563.9 538.8,562.1 539.6,563.5 540.4,562.9 541.2,562.5 542.0,562.8 542.8,565.1 543.6,563.0 544.4,561.2 545.2,562.6 546.0,565.0 546.8,567.0 547.6,562.4 548.4,563.4 549.2,563.4 550.0,561.8 550.8,564.4 551.6,563.6 552.4,564.1 553.2,566.9 554.0,563.2 554.8,564.6 555.6,564.7 556.4,562.4 557.2,562.5 558.0,565.5 558.8,564.2 559.6,563.4 560.4,561.9 561.2,565.2 562.0,565.2 562.8,568.2 563.6,567.6 564.4,567.1 565.2,566.8 566.0,567.0 566.8,566.3 567.6,567.1 568.4,566.5 569.2,566.6 570.0,566.8 570.8,565.2 571.6,563.5 572.4,564.9 573.2,565.6 574.0,561.6 574.8,562.9 575.6,563.2 576.4,563.2 577.2,563.3 578.0,562.5 578.8,562.5 579.6,565.2 580.4,565.4 581.2,560.9 582.0,559.3 582.8,563.7 583.6,562.2 584.4,562.5 585.2,561.0 586.0,563.9 586.8,563.4 587.6,562.8 588.4,565.0 589.2,567.3 590.0,566.0 590.8,565.6 591.6,563.3 592.4,564.6 593.2,563.4 594.0,564.9 594.8,563.8 595.6,562.7 596.4,563.3 597.2,561.2 598.0,563.2 598.8,564.0 599.6,561.0 600.4,562.4 601.2,559.3 602.0,563.2 602.8,563.2 603.6,560.6 604.4,564.8 605.2,562.5 606.0,560.0 606.8,560.6 607.6,564.0 608.4,562.5 609.2,564.6 610.0,560.9 610.8,563.4 611.6,565.2 612.4,563.1 613.2,565.4 614.0,564.2 614.8,565.5 615.6,565.8 616.4,568.9 617.2,563.4 618.0,566.0 618.8,566.4 619.6,562.4 620.4,563.8 621.2,566.6 622.0,564.9 622.8,559.5 623.6,563.9 624.4,562.1 625.2,565.4 626.0,564.3 626.8,565.0 627.6,565.0 628.4,566.9 629.2,565.7 630.0,565.0 630.8,565.9 631.6,566.8 632.4,564.9 633.2,567.7 634.0,563.6 634.8,566.6 635.6,565.4 636.4,568.2 637.2,564.9 638.0,564.8 638.8,563.7 639.6,568.5 640.4,566.7 641.2,564.4 642.0,565.6 642.8,564.9 643.6,568.7 644.4,567.2 645.2,563.8 646.0,567.3 646.8,568.5 647.6,567.3 648.4,568.2 649.2,567.5 650.0,568.1 650.8,568.3 651.6,567.0 652.4,568.3 653.2,567.8 654.0,567.2 654.8,566.0 655.6,565.2 656.4,566.8 657.2,567.8 658.0,563.3 658.8,566.2 659.6,569.1 660.4,568.6 661.2,566.4 662.0,569.5 662.8,566.3 663.6,566.7 664.4,570.9 665.2,567.6 666.0,568.1 666.8,566.1 667.6,567.2 668.4,567.1 669.2,568.8 670.0,566.5 670.8,570.9 671.6,569.0 672.4,568.8 673.2,568.8 674.0,570.3 674.8,571.0 675.6,567.8 676.4,570.3 677.2,569.8 678.0,569.0 678.8,567.0 679.6,564.0 680.4,567.0 681.2,565.3 682.0,566.1 682.8,563.0 683.6,565.3 684.4,566.0 685.2,564.2 686.0,566.0 686.8,567.9 687.6,565.7 688.4,564.3 689.2,568.7 690.0,562.2 690.8,564.4 691.6,566.8 692.4,565.8 693.2,563.7 694.0,567.9 694.8,569.2 695.6,567.2 696.4,571.0 697.2,569.6 698.0,570.6 698.8,566.5 699.6,568.7 700.4,570.9 701.2,571.4 702.0,570.3 702.8,568.3 703.6,568.5 704.4,567.3 705.2,569.7 706.0,567.2 706.8,568.5 707.6,565.3 708.4,566.2 709.2,571.1 710.0,568.6 710.8,568.9 711.6,565.5 712.4,568.7 713.2,571.8 714.0,566.7 714.8,565.5 715.6,568.4 716.4,567.4 717.2,567.5 718.0,565.6 718.8,565.0 719.6,564.8 720.4,567.5 721.2,566.6 722.0,568.0 722.8,565.4 723.6,567.9 724.4,566.6 725.2,567.5 726.0,568.8 726.8,567.6 727.6,567.2 728.4,565.4 729.2,568.1 730.0,569.3 730.8,567.4 731.6,568.5 732.4,566.2 733.2,567.1 734.0,569.9 734.8,571.4 735.6,569.3 736.4,567.5 737.2,569.6 738.0,568.1 738.8,570.3 739.6,573.7 740.4,571.6 741.2,571.1 742.0,572.7 742.8,570.1 743.6,570.6 744.4,569.9 745.2,569.7 746.0,566.3 746.8,569.3 747.6,569.8 748.4,565.5 749.2,565.2 750.0,568.2 750.8,572.0 751.6,570.2 752.4,571.5 753.2,571.6 754.0,572.4 754.8,570.5 755.6,570.4 756.4,571.7 757.2,571.9 758.0,571.7 758.8,571.2 759.6,569.8 760.4,572.0 761.2,570.9 762.0,571.6 762.8,566.1 763.6,571.0 764.4,565.3 765.2,568.6 766.0,566.7 766.8,567.3 767.6,565.8 768.4,565.4 769.2,565.6 770.0,565.3 770.8,563.8 771.6,561.4 772.4,564.2 773.2,566.3 774.0,564.4 774.8,566.4 775.6,565.4 776.4,564.7 777.2,568.0 778.0,568.9 778.8,566.9 779.6,567.8 780.4,570.1 781.2,567.5 782.0,569.0 782.8,572.8 783.6,572.6 784.4,570.1 785.2,569.3 786.0,570.5 786.8,567.5 787.6,568.5 788.4,568.5 789.2,564.8 790.0,569.0 790.8,569.4 791.6,569.9 792.4,566.3 793.2,566.6 794.0,567.4 794.8,566.8 795.6,571.9 796.4,567.5 797.2,568.5 798.0,569.4 798.8,569.8 799.6,571.4 800.4,567.7 801.2,570.7 802.0,569.6 802.8,567.7 803.6,569.8 804.4,567.5 805.2,572.1 806.0,568.7 806.8,571.4 807.6,572.0 808.4,569.4 809.2,569.2 810.0,571.0 810.8,569.5 811.6,572.6 812.4,571.7 813.2,570.6 814.0,570.9 814.8,573.2 815.6,570.2 816.4,575.1 817.2,571.7 818.0,572.8 818.8,571.4 819.6,574.8 820.4,573.2 821.2,573.5 822.0,572.1 822.8,570.9 823.6,572.9 824.4,571.0 825.2,570.2 826.0,570.0 826.8,570.0 827.6,569.4 828.4,568.7 829.2,566.6 830.0,572.0 830.8,567.0 831.6,565.7 832.4,567.9 833.2,571.8 834.0,570.8 834.8,568.1 835.6,569.3 836.4,568.9 837.2,566.2 838.0,568.9 838.8,570.1 839.6,571.7 840.4,568.4 841.2,567.0 842.0,568.3 842.8,571.4 843.6,571.2 844.4,571.6 845.2,571.4 846.0,570.3 846.8,568.4 847.6,570.7 848.4,570.2 849.2,570.1 850.0,570.7 850.8,566.6 851.6,564.7 852.4,566.0 853.2,572.2 854.0,568.1 854.8,570.4 855.6,570.2 856.4,571.7 857.2,575.8 858.0,570.7 858.8,570.6 859.6,569.2 860.4,569.8 861.2,569.6 862.0,566.7 862.8,569.5 863.6,569.1 864.4,568.3 865.2,567.6 866.0,567.6 866.8,565.6 867.6,569.3 868.4,567.0 869.2,567.9 870.0,570.3 870.8,567.6 871.6,568.1 872.4,570.2 873.2,571.6 874.0,567.8 874.8,570.4 875.6,567.7 876.4,569.3 877.2,569.4 878.0,566.9 878.8,570.1 879.6,571.2 880.4,568.7 881.2,569.2 882.0,567.2 882.8,571.8 883.6,569.4 884.4,567.6 885.2,570.8 886.0,567.6 886.8,568.9 887.6,566.9 888.4,572.4 889.2,573.8 890.0,569.7 890.8,569.4 891.6,569.3 892.4,569.0 893.2,570.5 894.0,571.6 894.8,567.7 895.6,569.6 896.4,566.0 897.2,570.7 898.0,568.1 898.8,567.3 899.6,570.9 900.4,568.8 901.2,571.3 902.0,571.1 902.8,572.3 903.6,568.9 904.4,570.5 905.2,571.2 906.0,570.5 906.8,573.3 907.6,570.1 908.4,572.8 909.2,573.5 910.0,568.7 910.8,570.3 911.6,570.6 912.4,571.3 913.2,572.9 914.0,571.6 914.8,571.6 915.6,570.4 916.4,570.6 917.2,571.0 918.0,571.0 918.8,568.3 919.6,568.9 920.4,568.0 921.2,569.1 922.0,567.4 922.8,571.2 923.6,571.1 924.4,570.1 925.2,569.5 926.0,570.1 926.8,570.0 927.6,568.9 928.4,573.8 929.2,575.9 930.0,568.7 930.8,568.4 931.6,570.6 932.4,570.3 933.2,566.6 934.0,565.7 934.8,569.0 935.6,565.6 936.4,571.2 937.2,568.8 938.0,570.2 938.8,570.6 939.6,570.2 940.4,571.3 941.2,571.6 942.0,574.1 942.8,572.1 943.6,572.1 944.4,571.3 945.2,571.1 946.0,570.9 946.8,571.9 947.6,574.6 948.4,573.5 949.2,572.1 950.0,574.2 950.8,573.1 951.6,571.9 952.4,571.3 953.2,569.8 954.0,571.6 954.8,570.4 955.6,568.3 956.4,568.5 957.2,573.0 958.0,570.2 958.8,570.3 959.6,569.6 960.4,568.3 961.2,569.5 962.0,570.1 962.8,567.8 963.6,568.8 964.4,569.5 965.2,567.2 966.0,568.1 966.8,566.6 967.6,568.6 968.4,567.0 969.2,569.2 970.0,566.3 970.8,569.9 971.6,566.8 972.4,565.9 973.2,565.8 974.0,568.0 974.8,565.7 975.6,569.6 976.4,568.7 977.2,567.5 978.0,564.5 978.8,566.5 979.6,565.4 980.4,563.6 981.2,566.7 982.0,569.1 982.8,564.8 983.6,566.5 984.4,567.0 985.2,563.4 986.0,564.1 986.8,564.8 987.6,564.8 988.4,562.4 989.2,564.8 990.0,564.7 990.8,566.7 991.6,563.3 992.4,565.2 993.2,565.6 994.0,565.0 994.8,565.7 995.6,562.8 996.4,566.9 997.2,560.9 998.0,562.3 998.8,561.7 999.6,560.7 1000.4,559.5 1001.2,560.0 1002.0,562.3 1002.8,565.0 1003.6,565.6 1004.4,567.6 1005.2,568.9 1006.0,568.0 1006.8,569.2 1007.6,574.1 1008.4,571.3 1009.2,569.5 1010.0,574.6 1010.8,570.4 1011.6,570.2 1012.4,572.9 1013.2,569.6 1014.0,569.9 1014.8,572.7 1015.6,569.8 1016.4,574.7 1017.2,571.0 1018.0,574.9 1018.8,571.0 1019.6,570.8 1020.4,569.8 1021.2,570.4 1022.0,569.9 1022.8,570.6 1023.6,571.7 1024.4,568.7 1025.2,569.1 1026.0,567.4 1026.8,572.7 1027.6,570.4 1028.4,570.5 1029.2,570.4 1030.0,572.0 1030.8,571.0 1031.6,571.8 1032.4,570.2 1033.2,570.3 1034.0,570.4 1034.8,567.9 1035.6,572.8 1036.4,569.2 1037.2,570.6 1038.0,573.5 1038.8,573.1 1039.6,574.7 1040.4,576.5 1041.2,577.3 1042.0,577.1 1042.8,575.1 1043.6,579.0 1044.4,575.2 1045.2,576.8 1046.0,579.0 1046.8,577.2 1047.6,577.4 1048.4,577.1 1049.2,579.7 1050.0,574.0 1050.8,579.6 1051.6,579.4 1052.4,577.7 1053.2,578.7 1054.0,576.5 1054.8,579.8 1055.6,582.8 1056.4,577.0 1057.2,580.6 1058.0,578.6 1058.8,578.3 1059.6,578.2 1060.4,578.9 1061.2,577.5 1062.0,577.6 1062.8,582.4 1063.6,580.1 1064.4,581.2 1065.2,581.1 1066.0,581.1 1066.8,577.0 1067.6,576.8 1068.4,578.0 1069.2,577.4 1070.0,573.3 1070.8,573.8 1071.6,572.8 1072.4,575.2 1073.2,574.4 1074.0,573.7 1074.8,572.4 1075.6,573.6 1076.4,572.9 1077.2,571.9 1078.0,573.7 1078.8,572.5 1079.6,575.1 1080.4,574.9 1081.2,573.1 1082.0,575.3 1082.8,574.8 1083.6,573.8 1084.4,573.8 1085.2,572.8 1086.0,573.8 1086.8,576.2 1087.6,577.6 1088.4,575.0 1089.2,576.4 1090.0,576.8 1090.8,577.6 1091.6,577.3 1092.4,578.6 1093.2,577.9 1094.0,575.4 1094.8,576.9 1095.6,572.5 1096.4,575.5 1097.2,575.6 1098.0,576.2 1098.8,574.6 1099.6,576.1 1100.4,576.6 1101.2,573.2 1102.0,573.6 1102.8,574.8 1103.6,575.2 1104.4,574.6 1105.2,575.7 1106.0,572.6 1106.8,575.6 1107.6,576.2 1108.4,576.1 1109.2,575.1 1110.0,574.1 1110.8,575.0 1111.6,574.1 1112.4,571.6 1113.2,572.8 1114.0,573.4 1114.8,572.4 1115.6,571.6 1116.4,572.4 1117.2,571.9 1118.0,572.4 1118.8,571.9 1119.6,572.3 1120.4,573.6 1121.2,572.5 1122.0,573.0 1122.8,570.6 1123.6,568.1 1124.4,572.1 1125.2,573.8 1126.0,571.3 1126.8,569.5 1127.6,567.2 1128.4,569.0 1129.2,566.6 1130.0,568.3 1130.8,570.2 1131.6,569.8 1132.4,572.9 1133.2,569.9 1134.0,571.7 1134.8,571.2 1135.6,569.1 1136.4,570.1 1137.2,569.0 1138.0,568.3 1138.8,570.1 1139.6,568.4 1140.4,572.0 1141.2,568.3 1142.0,568.5 1142.8,569.3 1143.6,568.3 1144.4,569.1 1145.2,568.0 1146.0,566.7 1146.8,565.1 1147.6,566.6 1148.4,570.7 1149.2,568.9 1150.0,568.3 1150.8,567.3 1151.6,567.6 1152.4,568.1 1153.2,565.4 1154.0,566.2 1154.8,565.9 1155.6,569.0" fill="none" stroke="#7E2F8E" stroke-width="2.1" stroke-opacity="0.9" stroke-linejoin="round"/></g>
<g filter="url(#fa)"><path d="M115.9,29.70h12M1156.1,29.70h-12M115.9,166.73h12M1156.1,166.73h-12M115.9,303.77h12M1156.1,303.77h-12M115.9,440.80h12M1156.1,440.80h-12M115.9,577.83h12M1156.1,577.83h-12M115.9,714.87h12M1156.1,714.87h-12M115.9,851.90h12M1156.1,851.90h-12M241.00,851.9v-12M241.00,29.7v12M367.41,851.9v-12M367.41,29.7v12M493.82,851.9v-12M493.82,29.7v12M620.23,851.9v-12M620.23,29.7v12M746.64,851.9v-12M746.64,29.7v12M873.05,851.9v-12M873.05,29.7v12M999.46,851.9v-12M999.46,29.7v12M1125.87,851.9v-12M1125.87,29.7v12" stroke="#727272" stroke-width="2.8" fill="none"/><rect x="115.9" y="29.7" width="1040.1999999999998" height="822.1999999999999" fill="none" stroke="#b4b4b4" stroke-width="4.4"/><rect x="116.4" y="29.5" width="1040.3" height="822.2" fill="none" stroke="#7c7c7c" stroke-width="2.0"/></g>
<g filter="url(#fl)"><line x1="857.5" y1="81.5" x2="939.5" y2="81.5" stroke="#1777c2" stroke-width="3.4"/><line x1="859.5" y1="131.3" x2="938.5" y2="131.3" stroke="#e3835a" stroke-width="3.4"/><line x1="857.7" y1="177.6" x2="939" y2="177.6" stroke="#f1c96f" stroke-width="3.4"/><line x1="861" y1="228.3" x2="938.4" y2="228.3" stroke="#a066ae" stroke-width="4.6"/></g>
<g font-family="Liberation Serif, serif" fill="#000" filter="url(#ft)">
<text x="83.75" y="51.65" font-size="56" letter-spacing="1.3" stroke="#fff" stroke-width="0.25">5</text>
<text x="84.85" y="319.35" font-size="56" letter-spacing="1.3" stroke="#fff" stroke-width="0.25">4</text>
<text x="79.30" y="599.40" font-size="56" letter-spacing="1.3" stroke="#fff" stroke-width="0.25">3</text>
<text x="80.00" y="870.00" font-size="56" letter-spacing="1.3" stroke="#fff" stroke-width="0.25">2</text>
<text x="192.65" y="897.95" font-size="56" letter-spacing="1.3" stroke="#fff" stroke-width="0.25">200</text>
<text x="448.15" y="895.95" font-size="56" letter-spacing="1.3" stroke="#fff" stroke-width="0.25">400</text>
<text x="699.15" y="897.45" font-size="56" letter-spacing="1.3" stroke="#fff" stroke-width="0.25">600</text>
<text x="958.65" y="901.20" font-size="56" letter-spacing="1.3" stroke="#fff" stroke-width="0.25">800</text>
<text x="1104.40" y="899.20" font-size="56" letter-spacing="1.3" stroke="#fff" stroke-width="0.25">900</text>
<text x="362.65" y="956.20" font-size="58.7" letter-spacing="0">Spatial position (pixels)</text>
<text x="940.20" y="93.65" font-size="48" letter-spacing="-0.4" stroke="#fff" stroke-width="0.0">500<tspan stroke="#000" stroke-width="0.3"> nm</tspan></text>
<text x="940.05" y="141.20" font-size="48" letter-spacing="-0.4" stroke="#fff" stroke-width="0.0">600<tspan stroke="#000" stroke-width="0.3"> nm</tspan></text>
<text x="937.85" y="193.25" font-size="48" letter-spacing="-0.4" stroke="#fff" stroke-width="0.0">700<tspan stroke="#000" stroke-width="0.3"> nm</tspan></text>
<text x="939.35" y="241.20" font-size="48" letter-spacing="-0.4" stroke="#fff" stroke-width="0.0">800<tspan stroke="#000" stroke-width="0.3"> nm</tspan></text>
<text x="53.10" y="724.00" font-size="58.7" letter-spacing="0" transform="rotate(-90 53.10 724.00)">Spectral resolution (nm)</text>
</g>
</svg>
</body></html>
